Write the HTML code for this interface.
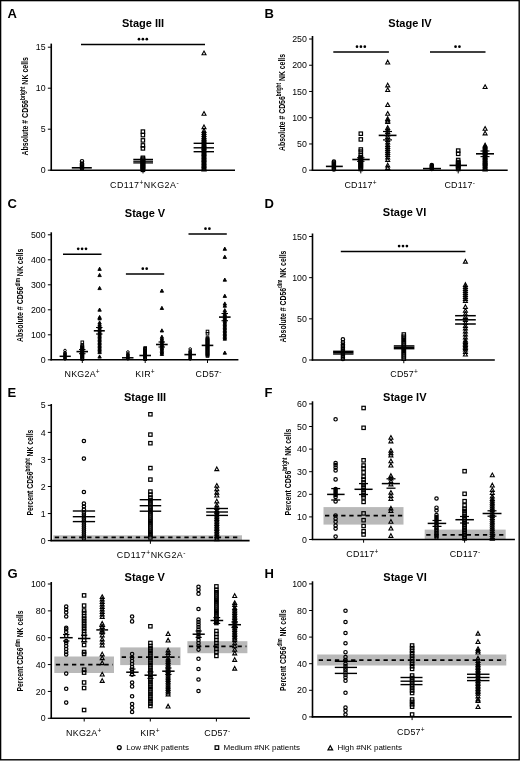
<!DOCTYPE html><html><head><meta charset="utf-8"><style>html,body{margin:0;padding:0;background:#fff}svg{display:block;filter:grayscale(1)}text{font-family:"Liberation Sans",sans-serif;fill:#000;stroke:none}</style></head><body>
<svg width="520" height="761" viewBox="0 0 520 761">
<rect x="0" y="0" width="520" height="761" fill="#fff"/>
<rect x="0.6" y="0.6" width="518.6" height="759.2" fill="none" stroke="#000" stroke-width="1.4"/>
<g stroke="#000" fill="none">
<text x="7.6" y="18" font-size="13" text-anchor="start" font-weight="bold">A</text>
<text x="264.6" y="18" font-size="13" text-anchor="start" font-weight="bold">B</text>
<text x="7.6" y="207.5" font-size="13" text-anchor="start" font-weight="bold">C</text>
<text x="264.6" y="207.5" font-size="13" text-anchor="start" font-weight="bold">D</text>
<text x="7.6" y="397" font-size="13" text-anchor="start" font-weight="bold">E</text>
<text x="264.6" y="397" font-size="13" text-anchor="start" font-weight="bold">F</text>
<text x="7.6" y="577.5" font-size="13" text-anchor="start" font-weight="bold">G</text>
<text x="264.6" y="577.5" font-size="13" text-anchor="start" font-weight="bold">H</text>
<text x="143" y="27.3" font-size="11" text-anchor="middle" font-weight="bold">Stage III</text>
<text x="410" y="27.3" font-size="11" text-anchor="middle" font-weight="bold">Stage IV</text>
<text x="145" y="216.6" font-size="11" text-anchor="middle" font-weight="bold">Stage V</text>
<text x="404.5" y="216.4" font-size="11" text-anchor="middle" font-weight="bold">Stage VI</text>
<text x="145" y="401" font-size="11" text-anchor="middle" font-weight="bold">Stage III</text>
<text x="404.8" y="401" font-size="11" text-anchor="middle" font-weight="bold">Stage IV</text>
<text x="144.8" y="580.8" font-size="11" text-anchor="middle" font-weight="bold">Stage V</text>
<text x="405" y="580.8" font-size="11" text-anchor="middle" font-weight="bold">Stage VI</text>
<line x1="51.25" y1="43.6" x2="51.25" y2="170.8" stroke-width="1.6"/>
<line x1="50.45" y1="170.2" x2="235" y2="170.2" stroke-width="1.6"/>
<line x1="47.85" y1="170.2" x2="51.25" y2="170.2" stroke-width="1"/>
<text x="45.65" y="173.3" font-size="8.8" text-anchor="end">0</text>
<line x1="47.85" y1="129.2" x2="51.25" y2="129.2" stroke-width="1"/>
<text x="45.65" y="132.3" font-size="8.8" text-anchor="end">5</text>
<line x1="47.85" y1="88.2" x2="51.25" y2="88.2" stroke-width="1"/>
<text x="45.65" y="91.3" font-size="8.8" text-anchor="end">10</text>
<line x1="47.85" y1="47.2" x2="51.25" y2="47.2" stroke-width="1"/>
<text x="45.65" y="50.3" font-size="8.8" text-anchor="end">15</text>
<line x1="143" y1="170.2" x2="143" y2="173.4" stroke-width="1"/>
<text transform="translate(28.2,106.3) rotate(-90)" font-size="9.6" font-weight="bold" text-anchor="middle" textLength="98.5" lengthAdjust="spacingAndGlyphs">Absolute # CD56<tspan font-size="6.53" dy="-3.2">bright</tspan><tspan dy="3.2"> NK cells</tspan></text>
<line x1="81" y1="44.5" x2="205" y2="44.5" stroke-width="1.45"/>
<circle cx="139" cy="39.15" r="1.35" fill="#000" stroke="none"/>
<circle cx="142.9" cy="39.15" r="1.35" fill="#000" stroke="none"/>
<circle cx="146.8" cy="39.15" r="1.35" fill="#000" stroke="none"/>
<text x="144.6" y="188.3" font-size="8.9" text-anchor="middle" letter-spacing="0.5">CD117<tspan font-size="6.6" dy="-2.9">+</tspan><tspan dy="2.9">NKG2A</tspan><tspan font-size="6.6" dy="-2.9">-</tspan></text>
<circle cx="82" cy="161.2" r="1.7" stroke-width="1.2"/>
<circle cx="82" cy="163.6" r="1.7" stroke-width="1.2"/>
<circle cx="82" cy="164.6" r="1.7" stroke-width="1.2"/>
<circle cx="82" cy="165.6" r="1.7" stroke-width="1.2"/>
<circle cx="82" cy="166.6" r="1.7" stroke-width="1.2"/>
<circle cx="82" cy="167.6" r="1.7" stroke-width="1.2"/>
<circle cx="82" cy="168.6" r="1.7" stroke-width="1.2"/>
<line x1="71.8" y1="167.8" x2="91.8" y2="167.8" stroke-width="1.6"/>
<rect x="141.2" y="129.9" width="3.4" height="3.4" stroke-width="1.2"/>
<rect x="141.2" y="133.4" width="3.4" height="3.4" stroke-width="1.2"/>
<rect x="141.2" y="138.7" width="3.4" height="3.4" stroke-width="1.2"/>
<rect x="141.2" y="143.7" width="3.4" height="3.4" stroke-width="1.2"/>
<rect x="141.2" y="146.7" width="3.4" height="3.4" stroke-width="1.2"/>
<rect x="141.2" y="156.1" width="3.4" height="3.4" stroke-width="1.2"/>
<rect x="141.2" y="157.1" width="3.4" height="3.4" stroke-width="1.2"/>
<rect x="141.2" y="158.1" width="3.4" height="3.4" stroke-width="1.2"/>
<rect x="141.2" y="159.1" width="3.4" height="3.4" stroke-width="1.2"/>
<rect x="141.2" y="160.1" width="3.4" height="3.4" stroke-width="1.2"/>
<rect x="141.2" y="161.1" width="3.4" height="3.4" stroke-width="1.2"/>
<rect x="141.2" y="162.1" width="3.4" height="3.4" stroke-width="1.2"/>
<rect x="141.2" y="163.1" width="3.4" height="3.4" stroke-width="1.2"/>
<rect x="141.2" y="164.1" width="3.4" height="3.4" stroke-width="1.2"/>
<rect x="141.2" y="165.1" width="3.4" height="3.4" stroke-width="1.2"/>
<rect x="141.2" y="166.1" width="3.4" height="3.4" stroke-width="1.2"/>
<rect x="141.2" y="167.1" width="3.4" height="3.4" stroke-width="1.2"/>
<rect x="141.2" y="168.1" width="3.4" height="3.4" stroke-width="1.2"/>
<line x1="133.3" y1="159.4" x2="153" y2="159.4" stroke-width="1.3"/>
<line x1="133.3" y1="161.2" x2="153" y2="161.2" stroke-width="1.3"/>
<line x1="133.3" y1="162.9" x2="153" y2="162.9" stroke-width="1.3"/>
<polygon points="204,51.05 206,54.75 202,54.75" stroke-width="1.1"/>
<polygon points="204,111.55 206,115.25 202,115.25" stroke-width="1.1"/>
<polygon points="204,124.95 206,128.65 202,128.65" stroke-width="1.1"/>
<polygon points="204,128.65 206,132.35 202,132.35" stroke-width="1.1"/>
<polygon points="204,130.65 206,134.35 202,134.35" stroke-width="1.1"/>
<polygon points="204,132.65 206,136.35 202,136.35" stroke-width="1.1"/>
<polygon points="204,134.65 206,138.35 202,138.35" stroke-width="1.1"/>
<polygon points="204,136.15 206,139.85 202,139.85" stroke-width="1.1"/>
<polygon points="204,137.35 206,141.05 202,141.05" stroke-width="1.1"/>
<polygon points="204,138.55 206,142.25 202,142.25" stroke-width="1.1"/>
<polygon points="204,139.75 206,143.45 202,143.45" stroke-width="1.1"/>
<polygon points="204,140.95 206,144.65 202,144.65" stroke-width="1.1"/>
<polygon points="204,142.15 206,145.85 202,145.85" stroke-width="1.1"/>
<polygon points="204,143.35 206,147.05 202,147.05" stroke-width="1.1"/>
<polygon points="204,144.55 206,148.25 202,148.25" stroke-width="1.1"/>
<polygon points="204,145.75 206,149.45 202,149.45" stroke-width="1.1"/>
<polygon points="204,146.95 206,150.65 202,150.65" stroke-width="1.1"/>
<polygon points="204,148.15 206,151.85 202,151.85" stroke-width="1.1"/>
<polygon points="204,149.35 206,153.05 202,153.05" stroke-width="1.1"/>
<polygon points="204,150.55 206,154.25 202,154.25" stroke-width="1.1"/>
<polygon points="204,151.75 206,155.45 202,155.45" stroke-width="1.1"/>
<polygon points="204,152.95 206,156.65 202,156.65" stroke-width="1.1"/>
<polygon points="204,154.15 206,157.85 202,157.85" stroke-width="1.1"/>
<polygon points="204,155.35 206,159.05 202,159.05" stroke-width="1.1"/>
<polygon points="204,156.55 206,160.25 202,160.25" stroke-width="1.1"/>
<polygon points="204,157.75 206,161.45 202,161.45" stroke-width="1.1"/>
<polygon points="204,158.95 206,162.65 202,162.65" stroke-width="1.1"/>
<polygon points="204,160.15 206,163.85 202,163.85" stroke-width="1.1"/>
<polygon points="204,161.35 206,165.05 202,165.05" stroke-width="1.1"/>
<polygon points="204,162.55 206,166.25 202,166.25" stroke-width="1.1"/>
<polygon points="204,163.75 206,167.45 202,167.45" stroke-width="1.1"/>
<polygon points="204,164.95 206,168.65 202,168.65" stroke-width="1.1"/>
<polygon points="204,166.15 206,169.85 202,169.85" stroke-width="1.1"/>
<polygon points="204,167.35 206,171.05 202,171.05" stroke-width="1.1"/>
<line x1="193.6" y1="143.3" x2="214" y2="143.3" stroke-width="1.4"/>
<line x1="193.6" y1="147.8" x2="214" y2="147.8" stroke-width="1.4"/>
<line x1="193.6" y1="151.7" x2="214" y2="151.7" stroke-width="1.4"/>
<line x1="312.5" y1="36" x2="312.5" y2="170.8" stroke-width="1.6"/>
<line x1="311.7" y1="170.2" x2="507.7" y2="170.2" stroke-width="1.6"/>
<line x1="309.1" y1="170.2" x2="312.5" y2="170.2" stroke-width="1"/>
<text x="306.9" y="173.3" font-size="8.8" text-anchor="end">0</text>
<line x1="309.1" y1="143.96" x2="312.5" y2="143.96" stroke-width="1"/>
<text x="306.9" y="147.06" font-size="8.8" text-anchor="end">50</text>
<line x1="309.1" y1="117.72" x2="312.5" y2="117.72" stroke-width="1"/>
<text x="306.9" y="120.82" font-size="8.8" text-anchor="end">100</text>
<line x1="309.1" y1="91.48" x2="312.5" y2="91.48" stroke-width="1"/>
<text x="306.9" y="94.58" font-size="8.8" text-anchor="end">150</text>
<line x1="309.1" y1="65.24" x2="312.5" y2="65.24" stroke-width="1"/>
<text x="306.9" y="68.34" font-size="8.8" text-anchor="end">200</text>
<line x1="309.1" y1="39" x2="312.5" y2="39" stroke-width="1"/>
<text x="306.9" y="42.1" font-size="8.8" text-anchor="end">250</text>
<line x1="360.8" y1="170.2" x2="360.8" y2="173.4" stroke-width="1"/>
<line x1="458.2" y1="170.2" x2="458.2" y2="173.4" stroke-width="1"/>
<text transform="translate(284.6,102.4) rotate(-90)" font-size="9.6" font-weight="bold" text-anchor="middle" textLength="97" lengthAdjust="spacingAndGlyphs">Absolute # CD56<tspan font-size="6.53" dy="-3.2">bright</tspan><tspan dy="3.2"> NK cells</tspan></text>
<line x1="333.3" y1="52" x2="388.9" y2="52" stroke-width="1.45"/>
<circle cx="357" cy="46.65" r="1.35" fill="#000" stroke="none"/>
<circle cx="360.9" cy="46.65" r="1.35" fill="#000" stroke="none"/>
<circle cx="364.8" cy="46.65" r="1.35" fill="#000" stroke="none"/>
<line x1="430" y1="52" x2="485.5" y2="52" stroke-width="1.45"/>
<circle cx="455.55" cy="46.65" r="1.35" fill="#000" stroke="none"/>
<circle cx="459.45" cy="46.65" r="1.35" fill="#000" stroke="none"/>
<text x="360.6" y="187.7" font-size="8.9" text-anchor="middle" letter-spacing="0.25">CD117<tspan font-size="6.6" dy="-2.9">+</tspan></text>
<text x="459.8" y="187.5" font-size="8.9" text-anchor="middle" letter-spacing="0.25">CD117<tspan font-size="6.6" dy="-2.9">-</tspan></text>
<circle cx="333.9" cy="161.5" r="1.7" stroke-width="1.2"/>
<circle cx="333.9" cy="162.5" r="1.7" stroke-width="1.2"/>
<circle cx="333.9" cy="163.5" r="1.7" stroke-width="1.2"/>
<circle cx="333.9" cy="164.5" r="1.7" stroke-width="1.2"/>
<circle cx="333.9" cy="165.5" r="1.7" stroke-width="1.2"/>
<circle cx="333.9" cy="166.5" r="1.7" stroke-width="1.2"/>
<circle cx="333.9" cy="167.5" r="1.7" stroke-width="1.2"/>
<circle cx="333.9" cy="168.5" r="1.7" stroke-width="1.2"/>
<circle cx="333.9" cy="169.5" r="1.7" stroke-width="1.2"/>
<line x1="325.9" y1="166.4" x2="342.8" y2="166.4" stroke-width="1.6"/>
<rect x="359.1" y="132" width="3.4" height="3.4" stroke-width="1.2"/>
<rect x="359.1" y="137.7" width="3.4" height="3.4" stroke-width="1.2"/>
<rect x="359.1" y="147.8" width="3.4" height="3.4" stroke-width="1.2"/>
<rect x="359.1" y="149.9" width="3.4" height="3.4" stroke-width="1.2"/>
<rect x="359.1" y="153.3" width="3.4" height="3.4" stroke-width="1.2"/>
<rect x="359.1" y="155.3" width="3.4" height="3.4" stroke-width="1.2"/>
<rect x="359.1" y="156.3" width="3.4" height="3.4" stroke-width="1.2"/>
<rect x="359.1" y="157.3" width="3.4" height="3.4" stroke-width="1.2"/>
<rect x="359.1" y="158.3" width="3.4" height="3.4" stroke-width="1.2"/>
<rect x="359.1" y="159.3" width="3.4" height="3.4" stroke-width="1.2"/>
<rect x="359.1" y="160.3" width="3.4" height="3.4" stroke-width="1.2"/>
<rect x="359.1" y="161.3" width="3.4" height="3.4" stroke-width="1.2"/>
<rect x="359.1" y="162.3" width="3.4" height="3.4" stroke-width="1.2"/>
<rect x="359.1" y="163.3" width="3.4" height="3.4" stroke-width="1.2"/>
<rect x="359.1" y="164.3" width="3.4" height="3.4" stroke-width="1.2"/>
<rect x="359.1" y="165.3" width="3.4" height="3.4" stroke-width="1.2"/>
<rect x="359.1" y="166.3" width="3.4" height="3.4" stroke-width="1.2"/>
<rect x="359.1" y="167.3" width="3.4" height="3.4" stroke-width="1.2"/>
<line x1="352.3" y1="159.5" x2="369.7" y2="159.5" stroke-width="1.6"/>
<line x1="357" y1="157.8" x2="364.5" y2="157.8" stroke-width="1.1"/>
<line x1="357" y1="161.3" x2="364.5" y2="161.3" stroke-width="1.1"/>
<polygon points="387.7,60.25 389.7,63.95 385.7,63.95" stroke-width="1.1"/>
<polygon points="387.7,83.15 389.7,86.85 385.7,86.85" stroke-width="1.1"/>
<polygon points="387.7,87.85 389.7,91.55 385.7,91.55" stroke-width="1.1"/>
<polygon points="387.7,102.85 389.7,106.55 385.7,106.55" stroke-width="1.1"/>
<polygon points="387.7,111.55 389.7,115.25 385.7,115.25" stroke-width="1.1"/>
<polygon points="387.7,116.65 389.7,120.35 385.7,120.35" stroke-width="1.1"/>
<polygon points="387.7,118.35 389.7,122.05 385.7,122.05" stroke-width="1.1"/>
<polygon points="387.7,119.65 389.7,123.35 385.7,123.35" stroke-width="1.1"/>
<polygon points="387.7,125.65 389.7,129.35 385.7,129.35" stroke-width="1.1"/>
<polygon points="387.7,127.65 389.7,131.35 385.7,131.35" stroke-width="1.1"/>
<polygon points="387.7,129.65 389.7,133.35 385.7,133.35" stroke-width="1.1"/>
<polygon points="387.7,132.15 389.7,135.85 385.7,135.85" stroke-width="1.1"/>
<polygon points="387.7,134.65 389.7,138.35 385.7,138.35" stroke-width="1.1"/>
<polygon points="387.7,137.65 389.7,141.35 385.7,141.35" stroke-width="1.1"/>
<polygon points="387.7,140.15 389.7,143.85 385.7,143.85" stroke-width="1.1"/>
<polygon points="387.7,142.65 389.7,146.35 385.7,146.35" stroke-width="1.1"/>
<polygon points="387.7,144.65 389.7,148.35 385.7,148.35" stroke-width="1.1"/>
<polygon points="387.7,146.65 389.7,150.35 385.7,150.35" stroke-width="1.1"/>
<polygon points="387.7,148.65 389.7,152.35 385.7,152.35" stroke-width="1.1"/>
<polygon points="387.7,150.65 389.7,154.35 385.7,154.35" stroke-width="1.1"/>
<polygon points="387.7,152.65 389.7,156.35 385.7,156.35" stroke-width="1.1"/>
<polygon points="387.7,155.15 389.7,158.85 385.7,158.85" stroke-width="1.1"/>
<polygon points="387.7,157.65 389.7,161.35 385.7,161.35" stroke-width="1.1"/>
<polygon points="387.7,163.15 389.7,166.85 385.7,166.85" stroke-width="1.1"/>
<polygon points="387.7,165.65 389.7,169.35 385.7,169.35" stroke-width="1.1"/>
<line x1="378.7" y1="135.4" x2="396.5" y2="135.4" stroke-width="1.6"/>
<line x1="383" y1="131.5" x2="392" y2="131.5" stroke-width="1.2"/>
<line x1="383" y1="139.9" x2="392" y2="139.9" stroke-width="1.2"/>
<circle cx="431.8" cy="165" r="1.7" stroke-width="1.2"/>
<circle cx="431.8" cy="166" r="1.7" stroke-width="1.2"/>
<circle cx="431.8" cy="167" r="1.7" stroke-width="1.2"/>
<circle cx="431.8" cy="168" r="1.7" stroke-width="1.2"/>
<circle cx="431.8" cy="169" r="1.7" stroke-width="1.2"/>
<line x1="423" y1="168.6" x2="441" y2="168.6" stroke-width="1.6"/>
<rect x="456.5" y="148.9" width="3.4" height="3.4" stroke-width="1.2"/>
<rect x="456.5" y="152.1" width="3.4" height="3.4" stroke-width="1.2"/>
<rect x="456.5" y="158.3" width="3.4" height="3.4" stroke-width="1.2"/>
<rect x="456.5" y="160.3" width="3.4" height="3.4" stroke-width="1.2"/>
<rect x="456.5" y="161.3" width="3.4" height="3.4" stroke-width="1.2"/>
<rect x="456.5" y="162.3" width="3.4" height="3.4" stroke-width="1.2"/>
<rect x="456.5" y="163.3" width="3.4" height="3.4" stroke-width="1.2"/>
<rect x="456.5" y="164.3" width="3.4" height="3.4" stroke-width="1.2"/>
<rect x="456.5" y="165.3" width="3.4" height="3.4" stroke-width="1.2"/>
<rect x="456.5" y="166.3" width="3.4" height="3.4" stroke-width="1.2"/>
<rect x="456.5" y="167.3" width="3.4" height="3.4" stroke-width="1.2"/>
<line x1="449.5" y1="165.4" x2="467" y2="165.4" stroke-width="1.6"/>
<polygon points="485.1,84.85 487.1,88.55 483.1,88.55" stroke-width="1.1"/>
<polygon points="485.1,126.55 487.1,130.25 483.1,130.25" stroke-width="1.1"/>
<polygon points="485.1,131.15 487.1,134.85 483.1,134.85" stroke-width="1.1"/>
<polygon points="485.1,143.15 487.1,146.85 483.1,146.85" stroke-width="1.1"/>
<polygon points="485.1,144.25 487.1,147.95 483.1,147.95" stroke-width="1.1"/>
<polygon points="485.1,145.35 487.1,149.05 483.1,149.05" stroke-width="1.1"/>
<polygon points="485.1,146.45 487.1,150.15 483.1,150.15" stroke-width="1.1"/>
<polygon points="485.1,147.55 487.1,151.25 483.1,151.25" stroke-width="1.1"/>
<polygon points="485.1,148.65 487.1,152.35 483.1,152.35" stroke-width="1.1"/>
<polygon points="485.1,149.75 487.1,153.45 483.1,153.45" stroke-width="1.1"/>
<polygon points="485.1,150.85 487.1,154.55 483.1,154.55" stroke-width="1.1"/>
<polygon points="485.1,151.95 487.1,155.65 483.1,155.65" stroke-width="1.1"/>
<polygon points="485.1,153.05 487.1,156.75 483.1,156.75" stroke-width="1.1"/>
<polygon points="485.1,154.15 487.1,157.85 483.1,157.85" stroke-width="1.1"/>
<polygon points="485.1,155.25 487.1,158.95 483.1,158.95" stroke-width="1.1"/>
<polygon points="485.1,156.35 487.1,160.05 483.1,160.05" stroke-width="1.1"/>
<polygon points="485.1,157.45 487.1,161.15 483.1,161.15" stroke-width="1.1"/>
<polygon points="485.1,158.55 487.1,162.25 483.1,162.25" stroke-width="1.1"/>
<polygon points="485.1,159.65 487.1,163.35 483.1,163.35" stroke-width="1.1"/>
<polygon points="485.1,160.75 487.1,164.45 483.1,164.45" stroke-width="1.1"/>
<polygon points="485.1,161.85 487.1,165.55 483.1,165.55" stroke-width="1.1"/>
<polygon points="485.1,162.95 487.1,166.65 483.1,166.65" stroke-width="1.1"/>
<polygon points="485.1,164.05 487.1,167.75 483.1,167.75" stroke-width="1.1"/>
<polygon points="485.1,165.15 487.1,168.85 483.1,168.85" stroke-width="1.1"/>
<polygon points="485.1,166.25 487.1,169.95 483.1,169.95" stroke-width="1.1"/>
<polygon points="485.1,167.35 487.1,171.05 483.1,171.05" stroke-width="1.1"/>
<line x1="476" y1="153.8" x2="494" y2="153.8" stroke-width="1.6"/>
<line x1="480.5" y1="151" x2="489.5" y2="151" stroke-width="1.1"/>
<line x1="480.5" y1="156.6" x2="489.5" y2="156.6" stroke-width="1.1"/>
<line x1="51.25" y1="232.3" x2="51.25" y2="360.4" stroke-width="1.6"/>
<line x1="50.45" y1="359.8" x2="238.4" y2="359.8" stroke-width="1.6"/>
<line x1="47.85" y1="359.8" x2="51.25" y2="359.8" stroke-width="1"/>
<text x="45.65" y="362.9" font-size="8.8" text-anchor="end">0</text>
<line x1="47.85" y1="334.8" x2="51.25" y2="334.8" stroke-width="1"/>
<text x="45.65" y="337.9" font-size="8.8" text-anchor="end">100</text>
<line x1="47.85" y1="309.8" x2="51.25" y2="309.8" stroke-width="1"/>
<text x="45.65" y="312.9" font-size="8.8" text-anchor="end">200</text>
<line x1="47.85" y1="284.8" x2="51.25" y2="284.8" stroke-width="1"/>
<text x="45.65" y="287.9" font-size="8.8" text-anchor="end">300</text>
<line x1="47.85" y1="259.8" x2="51.25" y2="259.8" stroke-width="1"/>
<text x="45.65" y="262.9" font-size="8.8" text-anchor="end">400</text>
<line x1="47.85" y1="234.8" x2="51.25" y2="234.8" stroke-width="1"/>
<text x="45.65" y="237.9" font-size="8.8" text-anchor="end">500</text>
<line x1="82.3" y1="359.8" x2="82.3" y2="363" stroke-width="1"/>
<line x1="145.2" y1="359.8" x2="145.2" y2="363" stroke-width="1"/>
<line x1="207.5" y1="359.8" x2="207.5" y2="363" stroke-width="1"/>
<text transform="translate(23.4,295.3) rotate(-90)" font-size="9.6" font-weight="bold" text-anchor="middle" textLength="93.4" lengthAdjust="spacingAndGlyphs">Absolute # CD56<tspan font-size="6.53" dy="-3.2">dim</tspan><tspan dy="3.2"> NK cells</tspan></text>
<line x1="63" y1="254.2" x2="101.5" y2="254.2" stroke-width="1.45"/>
<circle cx="78.2" cy="248.85" r="1.35" fill="#000" stroke="none"/>
<circle cx="82.1" cy="248.85" r="1.35" fill="#000" stroke="none"/>
<circle cx="86" cy="248.85" r="1.35" fill="#000" stroke="none"/>
<line x1="125.9" y1="274" x2="164.2" y2="274" stroke-width="1.45"/>
<circle cx="142.8" cy="268.65" r="1.35" fill="#000" stroke="none"/>
<circle cx="146.7" cy="268.65" r="1.35" fill="#000" stroke="none"/>
<line x1="188.5" y1="234" x2="226.8" y2="234" stroke-width="1.45"/>
<circle cx="205.5" cy="228.65" r="1.35" fill="#000" stroke="none"/>
<circle cx="209.4" cy="228.65" r="1.35" fill="#000" stroke="none"/>
<text x="82.2" y="377.2" font-size="8.9" text-anchor="middle" letter-spacing="0.25">NKG2A<tspan font-size="6.6" dy="-2.9">+</tspan></text>
<text x="145.1" y="377.2" font-size="8.9" text-anchor="middle" letter-spacing="0.25">KIR<tspan font-size="6.6" dy="-2.9">+</tspan></text>
<text x="208.7" y="377.2" font-size="8.9" text-anchor="middle" letter-spacing="0.25">CD57<tspan font-size="6.6" dy="-2.9">-</tspan></text>
<circle cx="65" cy="350.5" r="1.3" stroke-width="1"/>
<circle cx="65" cy="352.5" r="1.3" stroke-width="1"/>
<circle cx="65" cy="353.3" r="1.3" stroke-width="1"/>
<circle cx="65" cy="354.1" r="1.3" stroke-width="1"/>
<circle cx="65" cy="354.9" r="1.3" stroke-width="1"/>
<circle cx="65" cy="355.7" r="1.3" stroke-width="1"/>
<circle cx="65" cy="356.5" r="1.3" stroke-width="1"/>
<circle cx="65" cy="357.3" r="1.3" stroke-width="1"/>
<circle cx="65" cy="358.1" r="1.3" stroke-width="1"/>
<circle cx="65" cy="358.9" r="1.3" stroke-width="1"/>
<line x1="59.6" y1="356.3" x2="70.8" y2="356.3" stroke-width="1.5"/>
<rect x="81" y="341" width="2.6" height="2.6" stroke-width="1"/>
<rect x="81" y="344.2" width="2.6" height="2.6" stroke-width="1"/>
<rect x="81" y="345" width="2.6" height="2.6" stroke-width="1"/>
<rect x="81" y="345.8" width="2.6" height="2.6" stroke-width="1"/>
<rect x="81" y="346.6" width="2.6" height="2.6" stroke-width="1"/>
<rect x="81" y="347.4" width="2.6" height="2.6" stroke-width="1"/>
<rect x="81" y="348.2" width="2.6" height="2.6" stroke-width="1"/>
<rect x="81" y="349" width="2.6" height="2.6" stroke-width="1"/>
<rect x="81" y="349.8" width="2.6" height="2.6" stroke-width="1"/>
<rect x="81" y="350.6" width="2.6" height="2.6" stroke-width="1"/>
<rect x="81" y="351.4" width="2.6" height="2.6" stroke-width="1"/>
<rect x="81" y="352.2" width="2.6" height="2.6" stroke-width="1"/>
<rect x="81" y="353" width="2.6" height="2.6" stroke-width="1"/>
<rect x="81" y="353.8" width="2.6" height="2.6" stroke-width="1"/>
<rect x="81" y="354.6" width="2.6" height="2.6" stroke-width="1"/>
<rect x="81" y="355.4" width="2.6" height="2.6" stroke-width="1"/>
<rect x="81" y="356.2" width="2.6" height="2.6" stroke-width="1"/>
<rect x="81" y="357" width="2.6" height="2.6" stroke-width="1"/>
<rect x="81" y="357.8" width="2.6" height="2.6" stroke-width="1"/>
<line x1="76.5" y1="351.6" x2="88" y2="351.6" stroke-width="1.6"/>
<line x1="79" y1="349.5" x2="85.5" y2="349.5" stroke-width="1.1"/>
<line x1="79" y1="353.7" x2="85.5" y2="353.7" stroke-width="1.1"/>
<polygon points="99.6,267.2 101.3,270.4 97.9,270.4" stroke-width="0.9" fill="#000"/>
<polygon points="99.6,273.4 101.3,276.6 97.9,276.6" stroke-width="0.9" fill="#000"/>
<polygon points="99.6,286.4 101.3,289.6 97.9,289.6" stroke-width="0.9" fill="#000"/>
<polygon points="99.6,308 101.3,311.2 97.9,311.2" stroke-width="0.9" fill="#000"/>
<polygon points="99.6,315.4 101.3,318.6 97.9,318.6" stroke-width="0.9" fill="#000"/>
<polygon points="99.6,316.7 101.3,319.9 97.9,319.9" stroke-width="0.9" fill="#000"/>
<polygon points="99.6,320.9 101.3,324.1 97.9,324.1" stroke-width="0.9" fill="#000"/>
<polygon points="99.6,322.9 101.3,326.1 97.9,326.1" stroke-width="0.9" fill="#000"/>
<polygon points="99.6,324.35 101.3,327.55 97.9,327.55" stroke-width="0.9" fill="#000"/>
<polygon points="99.6,325.8 101.3,329 97.9,329" stroke-width="0.9" fill="#000"/>
<polygon points="99.6,327.25 101.3,330.45 97.9,330.45" stroke-width="0.9" fill="#000"/>
<polygon points="99.6,328.7 101.3,331.9 97.9,331.9" stroke-width="0.9" fill="#000"/>
<polygon points="99.6,330.15 101.3,333.35 97.9,333.35" stroke-width="0.9" fill="#000"/>
<polygon points="99.6,331.6 101.3,334.8 97.9,334.8" stroke-width="0.9" fill="#000"/>
<polygon points="99.6,333.05 101.3,336.25 97.9,336.25" stroke-width="0.9" fill="#000"/>
<polygon points="99.6,334.5 101.3,337.7 97.9,337.7" stroke-width="0.9" fill="#000"/>
<polygon points="99.6,335.95 101.3,339.15 97.9,339.15" stroke-width="0.9" fill="#000"/>
<polygon points="99.6,337.4 101.3,340.6 97.9,340.6" stroke-width="0.9" fill="#000"/>
<polygon points="99.6,338.85 101.3,342.05 97.9,342.05" stroke-width="0.9" fill="#000"/>
<polygon points="99.6,340.3 101.3,343.5 97.9,343.5" stroke-width="0.9" fill="#000"/>
<polygon points="99.6,341.75 101.3,344.95 97.9,344.95" stroke-width="0.9" fill="#000"/>
<polygon points="99.6,343.2 101.3,346.4 97.9,346.4" stroke-width="0.9" fill="#000"/>
<polygon points="99.6,344.65 101.3,347.85 97.9,347.85" stroke-width="0.9" fill="#000"/>
<polygon points="99.6,346.1 101.3,349.3 97.9,349.3" stroke-width="0.9" fill="#000"/>
<polygon points="99.6,347.55 101.3,350.75 97.9,350.75" stroke-width="0.9" fill="#000"/>
<polygon points="99.6,349 101.3,352.2 97.9,352.2" stroke-width="0.9" fill="#000"/>
<polygon points="99.6,350.45 101.3,353.65 97.9,353.65" stroke-width="0.9" fill="#000"/>
<polygon points="99.6,354.9 101.3,358.1 97.9,358.1" stroke-width="0.9" fill="#000"/>
<line x1="93.8" y1="330.8" x2="104.8" y2="330.8" stroke-width="1.6"/>
<line x1="96" y1="327.5" x2="102.5" y2="327.5" stroke-width="1.1"/>
<line x1="96" y1="334" x2="102.5" y2="334" stroke-width="1.1"/>
<circle cx="127.9" cy="352" r="1.3" stroke-width="1"/>
<circle cx="127.9" cy="354" r="1.3" stroke-width="1"/>
<circle cx="127.9" cy="354.8" r="1.3" stroke-width="1"/>
<circle cx="127.9" cy="355.6" r="1.3" stroke-width="1"/>
<circle cx="127.9" cy="356.4" r="1.3" stroke-width="1"/>
<circle cx="127.9" cy="357.2" r="1.3" stroke-width="1"/>
<circle cx="127.9" cy="358" r="1.3" stroke-width="1"/>
<circle cx="127.9" cy="358.8" r="1.3" stroke-width="1"/>
<line x1="122" y1="357.8" x2="133.5" y2="357.8" stroke-width="1.5"/>
<rect x="143.9" y="346.7" width="2.6" height="2.6" stroke-width="1"/>
<rect x="143.9" y="347.5" width="2.6" height="2.6" stroke-width="1"/>
<rect x="143.9" y="348.3" width="2.6" height="2.6" stroke-width="1"/>
<rect x="143.9" y="349.1" width="2.6" height="2.6" stroke-width="1"/>
<rect x="143.9" y="349.9" width="2.6" height="2.6" stroke-width="1"/>
<rect x="143.9" y="350.7" width="2.6" height="2.6" stroke-width="1"/>
<rect x="143.9" y="351.5" width="2.6" height="2.6" stroke-width="1"/>
<rect x="143.9" y="352.3" width="2.6" height="2.6" stroke-width="1"/>
<rect x="143.9" y="353.1" width="2.6" height="2.6" stroke-width="1"/>
<rect x="143.9" y="353.9" width="2.6" height="2.6" stroke-width="1"/>
<rect x="143.9" y="354.7" width="2.6" height="2.6" stroke-width="1"/>
<rect x="143.9" y="355.5" width="2.6" height="2.6" stroke-width="1"/>
<rect x="143.9" y="356.3" width="2.6" height="2.6" stroke-width="1"/>
<rect x="143.9" y="357.1" width="2.6" height="2.6" stroke-width="1"/>
<rect x="143.9" y="357.9" width="2.6" height="2.6" stroke-width="1"/>
<line x1="139.4" y1="355.5" x2="151" y2="355.5" stroke-width="1.6"/>
<polygon points="161.9,289 163.6,292.2 160.2,292.2" stroke-width="0.9" fill="#000"/>
<polygon points="161.9,306.3 163.6,309.5 160.2,309.5" stroke-width="0.9" fill="#000"/>
<polygon points="161.9,328.8 163.6,332 160.2,332" stroke-width="0.9" fill="#000"/>
<polygon points="161.9,335.1 163.6,338.3 160.2,338.3" stroke-width="0.9" fill="#000"/>
<polygon points="161.9,336.9 163.6,340.1 160.2,340.1" stroke-width="0.9" fill="#000"/>
<polygon points="161.9,338.3 163.6,341.5 160.2,341.5" stroke-width="0.9" fill="#000"/>
<polygon points="161.9,339.7 163.6,342.9 160.2,342.9" stroke-width="0.9" fill="#000"/>
<polygon points="161.9,341.1 163.6,344.3 160.2,344.3" stroke-width="0.9" fill="#000"/>
<polygon points="161.9,342.5 163.6,345.7 160.2,345.7" stroke-width="0.9" fill="#000"/>
<polygon points="161.9,343.9 163.6,347.1 160.2,347.1" stroke-width="0.9" fill="#000"/>
<polygon points="161.9,345.3 163.6,348.5 160.2,348.5" stroke-width="0.9" fill="#000"/>
<polygon points="161.9,346.7 163.6,349.9 160.2,349.9" stroke-width="0.9" fill="#000"/>
<polygon points="161.9,348.1 163.6,351.3 160.2,351.3" stroke-width="0.9" fill="#000"/>
<polygon points="161.9,349.5 163.6,352.7 160.2,352.7" stroke-width="0.9" fill="#000"/>
<polygon points="161.9,350.9 163.6,354.1 160.2,354.1" stroke-width="0.9" fill="#000"/>
<polygon points="161.9,352.3 163.6,355.5 160.2,355.5" stroke-width="0.9" fill="#000"/>
<line x1="156" y1="344.5" x2="167.7" y2="344.5" stroke-width="1.6"/>
<line x1="158.5" y1="342" x2="165" y2="342" stroke-width="1.1"/>
<line x1="158.5" y1="347" x2="165" y2="347" stroke-width="1.1"/>
<circle cx="190.2" cy="349" r="1.3" stroke-width="1"/>
<circle cx="190.2" cy="351" r="1.3" stroke-width="1"/>
<circle cx="190.2" cy="351.8" r="1.3" stroke-width="1"/>
<circle cx="190.2" cy="352.6" r="1.3" stroke-width="1"/>
<circle cx="190.2" cy="353.4" r="1.3" stroke-width="1"/>
<circle cx="190.2" cy="354.2" r="1.3" stroke-width="1"/>
<circle cx="190.2" cy="355" r="1.3" stroke-width="1"/>
<circle cx="190.2" cy="355.8" r="1.3" stroke-width="1"/>
<circle cx="190.2" cy="356.6" r="1.3" stroke-width="1"/>
<circle cx="190.2" cy="357.4" r="1.3" stroke-width="1"/>
<circle cx="190.2" cy="358.2" r="1.3" stroke-width="1"/>
<circle cx="190.2" cy="359" r="1.3" stroke-width="1"/>
<line x1="184.4" y1="354.6" x2="196" y2="354.6" stroke-width="1.6"/>
<rect x="206.2" y="330.2" width="2.6" height="2.6" stroke-width="1"/>
<rect x="206.2" y="332.5" width="2.6" height="2.6" stroke-width="1"/>
<rect x="206.2" y="336.7" width="2.6" height="2.6" stroke-width="1"/>
<rect x="206.2" y="337.6" width="2.6" height="2.6" stroke-width="1"/>
<rect x="206.2" y="338.5" width="2.6" height="2.6" stroke-width="1"/>
<rect x="206.2" y="339.4" width="2.6" height="2.6" stroke-width="1"/>
<rect x="206.2" y="340.3" width="2.6" height="2.6" stroke-width="1"/>
<rect x="206.2" y="341.2" width="2.6" height="2.6" stroke-width="1"/>
<rect x="206.2" y="342.1" width="2.6" height="2.6" stroke-width="1"/>
<rect x="206.2" y="343" width="2.6" height="2.6" stroke-width="1"/>
<rect x="206.2" y="343.9" width="2.6" height="2.6" stroke-width="1"/>
<rect x="206.2" y="344.8" width="2.6" height="2.6" stroke-width="1"/>
<rect x="206.2" y="345.7" width="2.6" height="2.6" stroke-width="1"/>
<rect x="206.2" y="346.6" width="2.6" height="2.6" stroke-width="1"/>
<rect x="206.2" y="347.5" width="2.6" height="2.6" stroke-width="1"/>
<rect x="206.2" y="348.4" width="2.6" height="2.6" stroke-width="1"/>
<rect x="206.2" y="349.3" width="2.6" height="2.6" stroke-width="1"/>
<rect x="206.2" y="350.2" width="2.6" height="2.6" stroke-width="1"/>
<rect x="206.2" y="351.1" width="2.6" height="2.6" stroke-width="1"/>
<rect x="206.2" y="352" width="2.6" height="2.6" stroke-width="1"/>
<rect x="206.2" y="352.9" width="2.6" height="2.6" stroke-width="1"/>
<rect x="206.2" y="353.8" width="2.6" height="2.6" stroke-width="1"/>
<rect x="206.2" y="354.7" width="2.6" height="2.6" stroke-width="1"/>
<line x1="201.7" y1="345.4" x2="213.3" y2="345.4" stroke-width="1.6"/>
<polygon points="224.8,247.1 226.5,250.3 223.1,250.3" stroke-width="0.9" fill="#000"/>
<polygon points="224.8,255.2 226.5,258.4 223.1,258.4" stroke-width="0.9" fill="#000"/>
<polygon points="224.8,278 226.5,281.2 223.1,281.2" stroke-width="0.9" fill="#000"/>
<polygon points="224.8,294.2 226.5,297.4 223.1,297.4" stroke-width="0.9" fill="#000"/>
<polygon points="224.8,301.9 226.5,305.1 223.1,305.1" stroke-width="0.9" fill="#000"/>
<polygon points="224.8,304 226.5,307.2 223.1,307.2" stroke-width="0.9" fill="#000"/>
<polygon points="224.8,308.6 226.5,311.8 223.1,311.8" stroke-width="0.9" fill="#000"/>
<polygon points="224.8,310.9 226.5,314.1 223.1,314.1" stroke-width="0.9" fill="#000"/>
<polygon points="224.8,312.35 226.5,315.55 223.1,315.55" stroke-width="0.9" fill="#000"/>
<polygon points="224.8,313.8 226.5,317 223.1,317" stroke-width="0.9" fill="#000"/>
<polygon points="224.8,315.25 226.5,318.45 223.1,318.45" stroke-width="0.9" fill="#000"/>
<polygon points="224.8,316.7 226.5,319.9 223.1,319.9" stroke-width="0.9" fill="#000"/>
<polygon points="224.8,318.15 226.5,321.35 223.1,321.35" stroke-width="0.9" fill="#000"/>
<polygon points="224.8,319.6 226.5,322.8 223.1,322.8" stroke-width="0.9" fill="#000"/>
<polygon points="224.8,321.05 226.5,324.25 223.1,324.25" stroke-width="0.9" fill="#000"/>
<polygon points="224.8,322.5 226.5,325.7 223.1,325.7" stroke-width="0.9" fill="#000"/>
<polygon points="224.8,323.95 226.5,327.15 223.1,327.15" stroke-width="0.9" fill="#000"/>
<polygon points="224.8,325.4 226.5,328.6 223.1,328.6" stroke-width="0.9" fill="#000"/>
<polygon points="224.8,326.85 226.5,330.05 223.1,330.05" stroke-width="0.9" fill="#000"/>
<polygon points="224.8,328.3 226.5,331.5 223.1,331.5" stroke-width="0.9" fill="#000"/>
<polygon points="224.8,329.75 226.5,332.95 223.1,332.95" stroke-width="0.9" fill="#000"/>
<polygon points="224.8,331.2 226.5,334.4 223.1,334.4" stroke-width="0.9" fill="#000"/>
<polygon points="224.8,332.65 226.5,335.85 223.1,335.85" stroke-width="0.9" fill="#000"/>
<polygon points="224.8,334.1 226.5,337.3 223.1,337.3" stroke-width="0.9" fill="#000"/>
<polygon points="224.8,335.55 226.5,338.75 223.1,338.75" stroke-width="0.9" fill="#000"/>
<polygon points="224.8,337 226.5,340.2 223.1,340.2" stroke-width="0.9" fill="#000"/>
<polygon points="224.8,351 226.5,354.2 223.1,354.2" stroke-width="0.9" fill="#000"/>
<line x1="219" y1="317.1" x2="230.6" y2="317.1" stroke-width="1.6"/>
<line x1="221.5" y1="313.5" x2="228" y2="313.5" stroke-width="1.1"/>
<line x1="221.5" y1="320.7" x2="228" y2="320.7" stroke-width="1.1"/>
<line x1="312.5" y1="233.5" x2="312.5" y2="360.6" stroke-width="1.6"/>
<line x1="311.7" y1="360" x2="494.8" y2="360" stroke-width="1.6"/>
<line x1="309.1" y1="360" x2="312.5" y2="360" stroke-width="1"/>
<text x="306.9" y="363.1" font-size="8.8" text-anchor="end">0</text>
<line x1="309.1" y1="318.83" x2="312.5" y2="318.83" stroke-width="1"/>
<text x="306.9" y="321.94" font-size="8.8" text-anchor="end">50</text>
<line x1="309.1" y1="277.67" x2="312.5" y2="277.67" stroke-width="1"/>
<text x="306.9" y="280.77" font-size="8.8" text-anchor="end">100</text>
<line x1="309.1" y1="236.5" x2="312.5" y2="236.5" stroke-width="1"/>
<text x="306.9" y="239.6" font-size="8.8" text-anchor="end">150</text>
<line x1="403.8" y1="360" x2="403.8" y2="363.2" stroke-width="1"/>
<text transform="translate(285.6,296.6) rotate(-90)" font-size="9.6" font-weight="bold" text-anchor="middle" textLength="92" lengthAdjust="spacingAndGlyphs">Absolute # CD56<tspan font-size="6.53" dy="-3.2">dim</tspan><tspan dy="3.2"> NK cells</tspan></text>
<line x1="340.8" y1="251.4" x2="465.4" y2="251.4" stroke-width="1.45"/>
<circle cx="399.1" cy="246.05" r="1.35" fill="#000" stroke="none"/>
<circle cx="403" cy="246.05" r="1.35" fill="#000" stroke="none"/>
<circle cx="406.9" cy="246.05" r="1.35" fill="#000" stroke="none"/>
<text x="404.2" y="376.8" font-size="8.9" text-anchor="middle" letter-spacing="0.25">CD57<tspan font-size="6.6" dy="-2.9">+</tspan></text>
<circle cx="342.9" cy="339.4" r="1.7" stroke-width="1.2"/>
<circle cx="342.9" cy="342.2" r="1.7" stroke-width="1.2"/>
<circle cx="342.9" cy="344.5" r="1.7" stroke-width="1.2"/>
<circle cx="342.9" cy="346.1" r="1.7" stroke-width="1.2"/>
<circle cx="342.9" cy="347.7" r="1.7" stroke-width="1.2"/>
<circle cx="342.9" cy="349.3" r="1.7" stroke-width="1.2"/>
<circle cx="342.9" cy="350.9" r="1.7" stroke-width="1.2"/>
<circle cx="342.9" cy="352.5" r="1.7" stroke-width="1.2"/>
<circle cx="342.9" cy="354.1" r="1.7" stroke-width="1.2"/>
<circle cx="342.9" cy="355.7" r="1.7" stroke-width="1.2"/>
<circle cx="342.9" cy="357.3" r="1.7" stroke-width="1.2"/>
<circle cx="342.9" cy="358.9" r="1.7" stroke-width="1.2"/>
<line x1="333.1" y1="351.3" x2="353.5" y2="351.3" stroke-width="1.4"/>
<line x1="333.1" y1="352.6" x2="353.5" y2="352.6" stroke-width="1.4"/>
<line x1="333.1" y1="354" x2="353.5" y2="354" stroke-width="1.4"/>
<rect x="402.1" y="332.8" width="3.4" height="3.4" stroke-width="1.2"/>
<rect x="402.1" y="335" width="3.4" height="3.4" stroke-width="1.2"/>
<rect x="402.1" y="337.2" width="3.4" height="3.4" stroke-width="1.2"/>
<rect x="402.1" y="339.4" width="3.4" height="3.4" stroke-width="1.2"/>
<rect x="402.1" y="341.6" width="3.4" height="3.4" stroke-width="1.2"/>
<rect x="402.1" y="343.8" width="3.4" height="3.4" stroke-width="1.2"/>
<rect x="402.1" y="346" width="3.4" height="3.4" stroke-width="1.2"/>
<rect x="402.1" y="348.2" width="3.4" height="3.4" stroke-width="1.2"/>
<rect x="402.1" y="350.4" width="3.4" height="3.4" stroke-width="1.2"/>
<rect x="402.1" y="352.6" width="3.4" height="3.4" stroke-width="1.2"/>
<rect x="402.1" y="354.8" width="3.4" height="3.4" stroke-width="1.2"/>
<rect x="402.1" y="357" width="3.4" height="3.4" stroke-width="1.2"/>
<line x1="393.8" y1="345.9" x2="414.4" y2="345.9" stroke-width="1.4"/>
<line x1="393.8" y1="347.3" x2="414.4" y2="347.3" stroke-width="1.4"/>
<line x1="393.8" y1="348.7" x2="414.4" y2="348.7" stroke-width="1.4"/>
<polygon points="465.4,259.45 467.4,263.15 463.4,263.15" stroke-width="1.1"/>
<polygon points="465.4,282.65 467.4,286.35 463.4,286.35" stroke-width="1.1"/>
<polygon points="465.4,284.65 467.4,288.35 463.4,288.35" stroke-width="1.1"/>
<polygon points="465.4,286.65 467.4,290.35 463.4,290.35" stroke-width="1.1"/>
<polygon points="465.4,288.65 467.4,292.35 463.4,292.35" stroke-width="1.1"/>
<polygon points="465.4,290.65 467.4,294.35 463.4,294.35" stroke-width="1.1"/>
<polygon points="465.4,292.65 467.4,296.35 463.4,296.35" stroke-width="1.1"/>
<polygon points="465.4,294.65 467.4,298.35 463.4,298.35" stroke-width="1.1"/>
<polygon points="465.4,296.65 467.4,300.35 463.4,300.35" stroke-width="1.1"/>
<polygon points="465.4,298.65 467.4,302.35 463.4,302.35" stroke-width="1.1"/>
<polygon points="465.4,304.75 467.4,308.45 463.4,308.45" stroke-width="1.1"/>
<polygon points="465.4,308.55 467.4,312.25 463.4,312.25" stroke-width="1.1"/>
<polygon points="465.4,311.65 467.4,315.35 463.4,315.35" stroke-width="1.1"/>
<polygon points="465.4,314.65 467.4,318.35 463.4,318.35" stroke-width="1.1"/>
<polygon points="465.4,317.65 467.4,321.35 463.4,321.35" stroke-width="1.1"/>
<polygon points="465.4,320.65 467.4,324.35 463.4,324.35" stroke-width="1.1"/>
<polygon points="465.4,323.65 467.4,327.35 463.4,327.35" stroke-width="1.1"/>
<polygon points="465.4,326.15 467.4,329.85 463.4,329.85" stroke-width="1.1"/>
<polygon points="465.4,329.15 467.4,332.85 463.4,332.85" stroke-width="1.1"/>
<polygon points="465.4,332.15 467.4,335.85 463.4,335.85" stroke-width="1.1"/>
<polygon points="465.4,335.15 467.4,338.85 463.4,338.85" stroke-width="1.1"/>
<polygon points="465.4,338.15 467.4,341.85 463.4,341.85" stroke-width="1.1"/>
<polygon points="465.4,339.65 467.4,343.35 463.4,343.35" stroke-width="1.1"/>
<polygon points="465.4,341.15 467.4,344.85 463.4,344.85" stroke-width="1.1"/>
<polygon points="465.4,342.65 467.4,346.35 463.4,346.35" stroke-width="1.1"/>
<polygon points="465.4,344.15 467.4,347.85 463.4,347.85" stroke-width="1.1"/>
<polygon points="465.4,345.65 467.4,349.35 463.4,349.35" stroke-width="1.1"/>
<polygon points="465.4,347.15 467.4,350.85 463.4,350.85" stroke-width="1.1"/>
<polygon points="465.4,349.65 467.4,353.35 463.4,353.35" stroke-width="1.1"/>
<polygon points="465.4,352.35 467.4,356.05 463.4,356.05" stroke-width="1.1"/>
<line x1="455.1" y1="315.7" x2="475.8" y2="315.7" stroke-width="1.5"/>
<line x1="455.1" y1="319.8" x2="475.8" y2="319.8" stroke-width="1.5"/>
<line x1="455.1" y1="324" x2="475.8" y2="324" stroke-width="1.5"/>
<rect x="53.3" y="535.3" width="188.7" height="4.7" fill="#b9b9b9" stroke="none"/>
<line x1="54.8" y1="537.3" x2="241" y2="537.3" stroke-width="1.75" stroke-dasharray="4.3 3.8"/>
<line x1="51.25" y1="404" x2="51.25" y2="541.2" stroke-width="1.6"/>
<line x1="50.45" y1="540.6" x2="249.6" y2="540.6" stroke-width="1.6"/>
<line x1="47.85" y1="540.6" x2="51.25" y2="540.6" stroke-width="1"/>
<text x="45.65" y="543.7" font-size="8.8" text-anchor="end">0</text>
<line x1="47.85" y1="513.55" x2="51.25" y2="513.55" stroke-width="1"/>
<text x="45.65" y="516.65" font-size="8.8" text-anchor="end">1</text>
<line x1="47.85" y1="486.5" x2="51.25" y2="486.5" stroke-width="1"/>
<text x="45.65" y="489.6" font-size="8.8" text-anchor="end">2</text>
<line x1="47.85" y1="459.45" x2="51.25" y2="459.45" stroke-width="1"/>
<text x="45.65" y="462.55" font-size="8.8" text-anchor="end">3</text>
<line x1="47.85" y1="432.4" x2="51.25" y2="432.4" stroke-width="1"/>
<text x="45.65" y="435.5" font-size="8.8" text-anchor="end">4</text>
<line x1="47.85" y1="405.35" x2="51.25" y2="405.35" stroke-width="1"/>
<text x="45.65" y="408.45" font-size="8.8" text-anchor="end">5</text>
<line x1="150.4" y1="540.6" x2="150.4" y2="543.8" stroke-width="1"/>
<text transform="translate(33.1,472.6) rotate(-90)" font-size="9.6" font-weight="bold" text-anchor="middle" textLength="86" lengthAdjust="spacingAndGlyphs">Percent CD56<tspan font-size="6.53" dy="-3.2">bright</tspan><tspan dy="3.2"> NK cells</tspan></text>
<text x="151.4" y="557.6" font-size="8.9" text-anchor="middle" letter-spacing="0.5">CD117<tspan font-size="6.6" dy="-2.9">+</tspan><tspan dy="2.9">NKG2A</tspan><tspan font-size="6.6" dy="-2.9">-</tspan></text>
<circle cx="83.9" cy="441" r="1.7" stroke-width="1.2"/>
<circle cx="83.9" cy="458.6" r="1.7" stroke-width="1.2"/>
<circle cx="83.9" cy="492" r="1.7" stroke-width="1.2"/>
<circle cx="83.9" cy="503.6" r="1.7" stroke-width="1.2"/>
<circle cx="83.9" cy="506.5" r="1.7" stroke-width="1.2"/>
<circle cx="83.9" cy="509.5" r="1.7" stroke-width="1.2"/>
<circle cx="83.9" cy="512.5" r="1.7" stroke-width="1.2"/>
<circle cx="83.9" cy="514.5" r="1.7" stroke-width="1.2"/>
<circle cx="83.9" cy="516.5" r="1.7" stroke-width="1.2"/>
<circle cx="83.9" cy="518.5" r="1.7" stroke-width="1.2"/>
<circle cx="83.9" cy="520.5" r="1.7" stroke-width="1.2"/>
<circle cx="83.9" cy="522.5" r="1.7" stroke-width="1.2"/>
<circle cx="83.9" cy="524.5" r="1.7" stroke-width="1.2"/>
<circle cx="83.9" cy="526.5" r="1.7" stroke-width="1.2"/>
<circle cx="83.9" cy="528.5" r="1.7" stroke-width="1.2"/>
<circle cx="83.9" cy="530.5" r="1.7" stroke-width="1.2"/>
<circle cx="83.9" cy="532.5" r="1.7" stroke-width="1.2"/>
<circle cx="83.9" cy="534.5" r="1.7" stroke-width="1.2"/>
<circle cx="83.9" cy="536.5" r="1.7" stroke-width="1.2"/>
<circle cx="83.9" cy="538.5" r="1.7" stroke-width="1.2"/>
<line x1="72.8" y1="511" x2="95.1" y2="511" stroke-width="1.4"/>
<line x1="72.8" y1="516.7" x2="95.1" y2="516.7" stroke-width="1.4"/>
<line x1="72.8" y1="521.6" x2="95.1" y2="521.6" stroke-width="1.4"/>
<rect x="148.7" y="412.6" width="3.4" height="3.4" stroke-width="1.2"/>
<rect x="148.7" y="432.9" width="3.4" height="3.4" stroke-width="1.2"/>
<rect x="148.7" y="441.5" width="3.4" height="3.4" stroke-width="1.2"/>
<rect x="148.7" y="466.4" width="3.4" height="3.4" stroke-width="1.2"/>
<rect x="148.7" y="477.9" width="3.4" height="3.4" stroke-width="1.2"/>
<rect x="148.7" y="489.9" width="3.4" height="3.4" stroke-width="1.2"/>
<rect x="148.7" y="492.9" width="3.4" height="3.4" stroke-width="1.2"/>
<rect x="148.7" y="495.9" width="3.4" height="3.4" stroke-width="1.2"/>
<rect x="148.7" y="498.3" width="3.4" height="3.4" stroke-width="1.2"/>
<rect x="148.7" y="500.5" width="3.4" height="3.4" stroke-width="1.2"/>
<rect x="148.7" y="502.7" width="3.4" height="3.4" stroke-width="1.2"/>
<rect x="148.7" y="504.9" width="3.4" height="3.4" stroke-width="1.2"/>
<rect x="148.7" y="507.1" width="3.4" height="3.4" stroke-width="1.2"/>
<rect x="148.7" y="509.3" width="3.4" height="3.4" stroke-width="1.2"/>
<rect x="148.7" y="511.5" width="3.4" height="3.4" stroke-width="1.2"/>
<rect x="148.7" y="513.7" width="3.4" height="3.4" stroke-width="1.2"/>
<rect x="148.7" y="515.9" width="3.4" height="3.4" stroke-width="1.2"/>
<rect x="148.7" y="518.1" width="3.4" height="3.4" stroke-width="1.2"/>
<rect x="148.7" y="520.3" width="3.4" height="3.4" stroke-width="1.2"/>
<rect x="148.7" y="522.5" width="3.4" height="3.4" stroke-width="1.2"/>
<rect x="148.7" y="524.7" width="3.4" height="3.4" stroke-width="1.2"/>
<rect x="148.7" y="526.9" width="3.4" height="3.4" stroke-width="1.2"/>
<rect x="148.7" y="529.1" width="3.4" height="3.4" stroke-width="1.2"/>
<rect x="148.7" y="531.3" width="3.4" height="3.4" stroke-width="1.2"/>
<rect x="148.7" y="533.5" width="3.4" height="3.4" stroke-width="1.2"/>
<rect x="148.7" y="535.7" width="3.4" height="3.4" stroke-width="1.2"/>
<line x1="139.7" y1="499.7" x2="161.2" y2="499.7" stroke-width="1.4"/>
<line x1="139.7" y1="505.7" x2="161.2" y2="505.7" stroke-width="1.4"/>
<line x1="139.7" y1="511.2" x2="161.2" y2="511.2" stroke-width="1.4"/>
<polygon points="216.8,466.95 218.8,470.65 214.8,470.65" stroke-width="1.1"/>
<polygon points="216.8,483.55 218.8,487.25 214.8,487.25" stroke-width="1.1"/>
<polygon points="216.8,487.05 218.8,490.75 214.8,490.75" stroke-width="1.1"/>
<polygon points="216.8,490.45 218.8,494.15 214.8,494.15" stroke-width="1.1"/>
<polygon points="216.8,493.35 218.8,497.05 214.8,497.05" stroke-width="1.1"/>
<polygon points="216.8,499.15 218.8,502.85 214.8,502.85" stroke-width="1.1"/>
<polygon points="216.8,503.15 218.8,506.85 214.8,506.85" stroke-width="1.1"/>
<polygon points="216.8,505.65 218.8,509.35 214.8,509.35" stroke-width="1.1"/>
<polygon points="216.8,508.15 218.8,511.85 214.8,511.85" stroke-width="1.1"/>
<polygon points="216.8,509.85 218.8,513.55 214.8,513.55" stroke-width="1.1"/>
<polygon points="216.8,511.55 218.8,515.25 214.8,515.25" stroke-width="1.1"/>
<polygon points="216.8,513.25 218.8,516.95 214.8,516.95" stroke-width="1.1"/>
<polygon points="216.8,514.95 218.8,518.65 214.8,518.65" stroke-width="1.1"/>
<polygon points="216.8,516.65 218.8,520.35 214.8,520.35" stroke-width="1.1"/>
<polygon points="216.8,518.35 218.8,522.05 214.8,522.05" stroke-width="1.1"/>
<polygon points="216.8,520.05 218.8,523.75 214.8,523.75" stroke-width="1.1"/>
<polygon points="216.8,521.75 218.8,525.45 214.8,525.45" stroke-width="1.1"/>
<polygon points="216.8,523.45 218.8,527.15 214.8,527.15" stroke-width="1.1"/>
<polygon points="216.8,525.15 218.8,528.85 214.8,528.85" stroke-width="1.1"/>
<polygon points="216.8,526.85 218.8,530.55 214.8,530.55" stroke-width="1.1"/>
<polygon points="216.8,528.55 218.8,532.25 214.8,532.25" stroke-width="1.1"/>
<polygon points="216.8,530.25 218.8,533.95 214.8,533.95" stroke-width="1.1"/>
<polygon points="216.8,531.95 218.8,535.65 214.8,535.65" stroke-width="1.1"/>
<polygon points="216.8,533.65 218.8,537.35 214.8,537.35" stroke-width="1.1"/>
<polygon points="216.8,535.35 218.8,539.05 214.8,539.05" stroke-width="1.1"/>
<polygon points="216.8,537.05 218.8,540.75 214.8,540.75" stroke-width="1.1"/>
<line x1="206.2" y1="508.5" x2="228" y2="508.5" stroke-width="1.4"/>
<line x1="206.2" y1="512" x2="228" y2="512" stroke-width="1.4"/>
<line x1="206.2" y1="515.4" x2="228" y2="515.4" stroke-width="1.4"/>
<rect x="323.5" y="507.1" width="80" height="17.5" fill="#b9b9b9" stroke="none"/>
<line x1="325" y1="515.6" x2="402.5" y2="515.6" stroke-width="1.75" stroke-dasharray="4.3 3.8"/>
<rect x="424.7" y="529.6" width="81" height="9.4" fill="#b9b9b9" stroke="none"/>
<line x1="426.2" y1="534.9" x2="504.7" y2="534.9" stroke-width="1.75" stroke-dasharray="4.3 3.8"/>
<line x1="312.5" y1="401.3" x2="312.5" y2="540.1" stroke-width="1.6"/>
<line x1="311.7" y1="539.5" x2="514.9" y2="539.5" stroke-width="1.6"/>
<line x1="309.1" y1="539.5" x2="312.5" y2="539.5" stroke-width="1"/>
<text x="306.9" y="542.6" font-size="8.8" text-anchor="end">0</text>
<line x1="309.1" y1="516.9" x2="312.5" y2="516.9" stroke-width="1"/>
<text x="306.9" y="520" font-size="8.8" text-anchor="end">10</text>
<line x1="309.1" y1="494.3" x2="312.5" y2="494.3" stroke-width="1"/>
<text x="306.9" y="497.4" font-size="8.8" text-anchor="end">20</text>
<line x1="309.1" y1="471.7" x2="312.5" y2="471.7" stroke-width="1"/>
<text x="306.9" y="474.8" font-size="8.8" text-anchor="end">30</text>
<line x1="309.1" y1="449.1" x2="312.5" y2="449.1" stroke-width="1"/>
<text x="306.9" y="452.2" font-size="8.8" text-anchor="end">40</text>
<line x1="309.1" y1="426.5" x2="312.5" y2="426.5" stroke-width="1"/>
<text x="306.9" y="429.6" font-size="8.8" text-anchor="end">50</text>
<line x1="309.1" y1="403.9" x2="312.5" y2="403.9" stroke-width="1"/>
<text x="306.9" y="407" font-size="8.8" text-anchor="end">60</text>
<line x1="363.6" y1="539.5" x2="363.6" y2="542.7" stroke-width="1"/>
<line x1="464.6" y1="539.5" x2="464.6" y2="542.7" stroke-width="1"/>
<text transform="translate(290.5,472) rotate(-90)" font-size="9.6" font-weight="bold" text-anchor="middle" textLength="86.8" lengthAdjust="spacingAndGlyphs">Percent CD56<tspan font-size="6.53" dy="-3.2">bright</tspan><tspan dy="3.2"> NK cells</tspan></text>
<text x="362.4" y="556.8" font-size="8.9" text-anchor="middle" letter-spacing="0.25">CD117<tspan font-size="6.6" dy="-2.9">+</tspan></text>
<text x="465" y="556.8" font-size="8.9" text-anchor="middle" letter-spacing="0.25">CD117<tspan font-size="6.6" dy="-2.9">-</tspan></text>
<circle cx="335.6" cy="419.3" r="1.7" stroke-width="1.2"/>
<circle cx="335.6" cy="463" r="1.7" stroke-width="1.2"/>
<circle cx="335.6" cy="465.1" r="1.7" stroke-width="1.2"/>
<circle cx="335.6" cy="467.6" r="1.7" stroke-width="1.2"/>
<circle cx="335.6" cy="470.4" r="1.7" stroke-width="1.2"/>
<circle cx="335.6" cy="479.4" r="1.7" stroke-width="1.2"/>
<circle cx="335.6" cy="489" r="1.7" stroke-width="1.2"/>
<circle cx="335.6" cy="491" r="1.7" stroke-width="1.2"/>
<circle cx="335.6" cy="493" r="1.7" stroke-width="1.2"/>
<circle cx="335.6" cy="495" r="1.7" stroke-width="1.2"/>
<circle cx="335.6" cy="497" r="1.7" stroke-width="1.2"/>
<circle cx="335.6" cy="501.5" r="1.7" stroke-width="1.2"/>
<circle cx="335.6" cy="515.5" r="1.7" stroke-width="1.2"/>
<circle cx="335.6" cy="518.7" r="1.7" stroke-width="1.2"/>
<circle cx="335.6" cy="521.8" r="1.7" stroke-width="1.2"/>
<circle cx="335.6" cy="525.6" r="1.7" stroke-width="1.2"/>
<circle cx="335.6" cy="528.6" r="1.7" stroke-width="1.2"/>
<circle cx="335.6" cy="536.6" r="1.7" stroke-width="1.2"/>
<line x1="327.1" y1="494.4" x2="344.6" y2="494.4" stroke-width="1.5"/>
<line x1="331.2" y1="488.6" x2="340.2" y2="488.6" stroke-width="1.3"/>
<line x1="331.2" y1="500" x2="340.2" y2="500" stroke-width="1.3"/>
<rect x="361.9" y="406.3" width="3.4" height="3.4" stroke-width="1.2"/>
<rect x="361.9" y="426.1" width="3.4" height="3.4" stroke-width="1.2"/>
<rect x="361.9" y="458.6" width="3.4" height="3.4" stroke-width="1.2"/>
<rect x="361.9" y="463.8" width="3.4" height="3.4" stroke-width="1.2"/>
<rect x="361.9" y="466.8" width="3.4" height="3.4" stroke-width="1.2"/>
<rect x="361.9" y="470.8" width="3.4" height="3.4" stroke-width="1.2"/>
<rect x="361.9" y="475" width="3.4" height="3.4" stroke-width="1.2"/>
<rect x="361.9" y="477.8" width="3.4" height="3.4" stroke-width="1.2"/>
<rect x="361.9" y="480.8" width="3.4" height="3.4" stroke-width="1.2"/>
<rect x="361.9" y="483.3" width="3.4" height="3.4" stroke-width="1.2"/>
<rect x="361.9" y="485.8" width="3.4" height="3.4" stroke-width="1.2"/>
<rect x="361.9" y="488.3" width="3.4" height="3.4" stroke-width="1.2"/>
<rect x="361.9" y="490.8" width="3.4" height="3.4" stroke-width="1.2"/>
<rect x="361.9" y="493.3" width="3.4" height="3.4" stroke-width="1.2"/>
<rect x="361.9" y="495.8" width="3.4" height="3.4" stroke-width="1.2"/>
<rect x="361.9" y="500.2" width="3.4" height="3.4" stroke-width="1.2"/>
<rect x="361.9" y="511.7" width="3.4" height="3.4" stroke-width="1.2"/>
<rect x="361.9" y="518.5" width="3.4" height="3.4" stroke-width="1.2"/>
<rect x="361.9" y="524.3" width="3.4" height="3.4" stroke-width="1.2"/>
<rect x="361.9" y="529.6" width="3.4" height="3.4" stroke-width="1.2"/>
<rect x="361.9" y="532.8" width="3.4" height="3.4" stroke-width="1.2"/>
<line x1="354.5" y1="489.3" x2="372.6" y2="489.3" stroke-width="1.5"/>
<line x1="359" y1="483.6" x2="368" y2="483.6" stroke-width="1.3"/>
<line x1="359" y1="494.5" x2="368" y2="494.5" stroke-width="1.3"/>
<polygon points="390.9,435.55 392.9,439.25 388.9,439.25" stroke-width="1.1"/>
<polygon points="390.9,439.15 392.9,442.85 388.9,442.85" stroke-width="1.1"/>
<polygon points="390.9,448.55 392.9,452.25 388.9,452.25" stroke-width="1.1"/>
<polygon points="390.9,451.05 392.9,454.75 388.9,454.75" stroke-width="1.1"/>
<polygon points="390.9,453.15 392.9,456.85 388.9,456.85" stroke-width="1.1"/>
<polygon points="390.9,459.05 392.9,462.75 388.9,462.75" stroke-width="1.1"/>
<polygon points="390.9,463.25 392.9,466.95 388.9,466.95" stroke-width="1.1"/>
<polygon points="390.9,473.75 392.9,477.45 388.9,477.45" stroke-width="1.1"/>
<polygon points="390.9,476.35 392.9,480.05 388.9,480.05" stroke-width="1.1"/>
<polygon points="390.9,479.15 392.9,482.85 388.9,482.85" stroke-width="1.1"/>
<polygon points="390.9,482.15 392.9,485.85 388.9,485.85" stroke-width="1.1"/>
<polygon points="390.9,490.55 392.9,494.25 388.9,494.25" stroke-width="1.1"/>
<polygon points="390.9,493.75 392.9,497.45 388.9,497.45" stroke-width="1.1"/>
<polygon points="390.9,496.65 392.9,500.35 388.9,500.35" stroke-width="1.1"/>
<polygon points="390.9,506.35 392.9,510.05 388.9,510.05" stroke-width="1.1"/>
<polygon points="390.9,508.65 392.9,512.35 388.9,512.35" stroke-width="1.1"/>
<polygon points="390.9,519.55 392.9,523.25 388.9,523.25" stroke-width="1.1"/>
<polygon points="390.9,526.35 392.9,530.05 388.9,530.05" stroke-width="1.1"/>
<polygon points="390.9,533.65 392.9,537.35 388.9,537.35" stroke-width="1.1"/>
<line x1="381.8" y1="483.6" x2="399.9" y2="483.6" stroke-width="1.5"/>
<line x1="386.5" y1="478.8" x2="395.5" y2="478.8" stroke-width="1.3"/>
<line x1="386.5" y1="488.2" x2="395.5" y2="488.2" stroke-width="1.3"/>
<circle cx="436.5" cy="498.5" r="1.7" stroke-width="1.2"/>
<circle cx="436.5" cy="507.7" r="1.7" stroke-width="1.2"/>
<circle cx="436.5" cy="510.5" r="1.7" stroke-width="1.2"/>
<circle cx="436.5" cy="515" r="1.7" stroke-width="1.2"/>
<circle cx="436.5" cy="517" r="1.7" stroke-width="1.2"/>
<circle cx="436.5" cy="519" r="1.7" stroke-width="1.2"/>
<circle cx="436.5" cy="521" r="1.7" stroke-width="1.2"/>
<circle cx="436.5" cy="523" r="1.7" stroke-width="1.2"/>
<circle cx="436.5" cy="525" r="1.7" stroke-width="1.2"/>
<circle cx="436.5" cy="526.6" r="1.7" stroke-width="1.2"/>
<circle cx="436.5" cy="528.2" r="1.7" stroke-width="1.2"/>
<circle cx="436.5" cy="529.8" r="1.7" stroke-width="1.2"/>
<circle cx="436.5" cy="531.4" r="1.7" stroke-width="1.2"/>
<circle cx="436.5" cy="533" r="1.7" stroke-width="1.2"/>
<circle cx="436.5" cy="534.6" r="1.7" stroke-width="1.2"/>
<circle cx="436.5" cy="536.2" r="1.7" stroke-width="1.2"/>
<circle cx="436.5" cy="537.8" r="1.7" stroke-width="1.2"/>
<line x1="427.7" y1="523.4" x2="446.2" y2="523.4" stroke-width="1.5"/>
<line x1="432.5" y1="520.5" x2="441.5" y2="520.5" stroke-width="1.2"/>
<line x1="432.5" y1="526.4" x2="441.5" y2="526.4" stroke-width="1.2"/>
<rect x="462.9" y="469.5" width="3.4" height="3.4" stroke-width="1.2"/>
<rect x="462.9" y="492.1" width="3.4" height="3.4" stroke-width="1.2"/>
<rect x="462.9" y="499.5" width="3.4" height="3.4" stroke-width="1.2"/>
<rect x="462.9" y="503.7" width="3.4" height="3.4" stroke-width="1.2"/>
<rect x="462.9" y="507.1" width="3.4" height="3.4" stroke-width="1.2"/>
<rect x="462.9" y="509.3" width="3.4" height="3.4" stroke-width="1.2"/>
<rect x="462.9" y="511.8" width="3.4" height="3.4" stroke-width="1.2"/>
<rect x="462.9" y="514.3" width="3.4" height="3.4" stroke-width="1.2"/>
<rect x="462.9" y="516.3" width="3.4" height="3.4" stroke-width="1.2"/>
<rect x="462.9" y="518" width="3.4" height="3.4" stroke-width="1.2"/>
<rect x="462.9" y="519.7" width="3.4" height="3.4" stroke-width="1.2"/>
<rect x="462.9" y="521.4" width="3.4" height="3.4" stroke-width="1.2"/>
<rect x="462.9" y="523.1" width="3.4" height="3.4" stroke-width="1.2"/>
<rect x="462.9" y="524.8" width="3.4" height="3.4" stroke-width="1.2"/>
<rect x="462.9" y="526.5" width="3.4" height="3.4" stroke-width="1.2"/>
<rect x="462.9" y="528.2" width="3.4" height="3.4" stroke-width="1.2"/>
<rect x="462.9" y="529.9" width="3.4" height="3.4" stroke-width="1.2"/>
<rect x="462.9" y="531.6" width="3.4" height="3.4" stroke-width="1.2"/>
<rect x="462.9" y="533.3" width="3.4" height="3.4" stroke-width="1.2"/>
<rect x="462.9" y="535" width="3.4" height="3.4" stroke-width="1.2"/>
<rect x="462.9" y="536.7" width="3.4" height="3.4" stroke-width="1.2"/>
<line x1="455.4" y1="519.7" x2="473.9" y2="519.7" stroke-width="1.5"/>
<line x1="460" y1="516.5" x2="469" y2="516.5" stroke-width="1.2"/>
<line x1="460" y1="523" x2="469" y2="523" stroke-width="1.2"/>
<polygon points="492.3,473.05 494.3,476.75 490.3,476.75" stroke-width="1.1"/>
<polygon points="492.3,483.25 494.3,486.95 490.3,486.95" stroke-width="1.1"/>
<polygon points="492.3,487.85 494.3,491.55 490.3,491.55" stroke-width="1.1"/>
<polygon points="492.3,490.85 494.3,494.55 490.3,494.55" stroke-width="1.1"/>
<polygon points="492.3,494.35 494.3,498.05 490.3,498.05" stroke-width="1.1"/>
<polygon points="492.3,496.65 494.3,500.35 490.3,500.35" stroke-width="1.1"/>
<polygon points="492.3,498.55 494.3,502.25 490.3,502.25" stroke-width="1.1"/>
<polygon points="492.3,500.45 494.3,504.15 490.3,504.15" stroke-width="1.1"/>
<polygon points="492.3,502.35 494.3,506.05 490.3,506.05" stroke-width="1.1"/>
<polygon points="492.3,504.25 494.3,507.95 490.3,507.95" stroke-width="1.1"/>
<polygon points="492.3,506.15 494.3,509.85 490.3,509.85" stroke-width="1.1"/>
<polygon points="492.3,508.05 494.3,511.75 490.3,511.75" stroke-width="1.1"/>
<polygon points="492.3,509.95 494.3,513.65 490.3,513.65" stroke-width="1.1"/>
<polygon points="492.3,511.85 494.3,515.55 490.3,515.55" stroke-width="1.1"/>
<polygon points="492.3,513.75 494.3,517.45 490.3,517.45" stroke-width="1.1"/>
<polygon points="492.3,515.65 494.3,519.35 490.3,519.35" stroke-width="1.1"/>
<polygon points="492.3,517.55 494.3,521.25 490.3,521.25" stroke-width="1.1"/>
<polygon points="492.3,519.45 494.3,523.15 490.3,523.15" stroke-width="1.1"/>
<polygon points="492.3,521.35 494.3,525.05 490.3,525.05" stroke-width="1.1"/>
<polygon points="492.3,523.25 494.3,526.95 490.3,526.95" stroke-width="1.1"/>
<polygon points="492.3,525.15 494.3,528.85 490.3,528.85" stroke-width="1.1"/>
<polygon points="492.3,527.05 494.3,530.75 490.3,530.75" stroke-width="1.1"/>
<polygon points="492.3,528.95 494.3,532.65 490.3,532.65" stroke-width="1.1"/>
<polygon points="492.3,530.85 494.3,534.55 490.3,534.55" stroke-width="1.1"/>
<polygon points="492.3,532.75 494.3,536.45 490.3,536.45" stroke-width="1.1"/>
<polygon points="492.3,534.65 494.3,538.35 490.3,538.35" stroke-width="1.1"/>
<polygon points="492.3,536.55 494.3,540.25 490.3,540.25" stroke-width="1.1"/>
<line x1="482.6" y1="513.5" x2="501.5" y2="513.5" stroke-width="1.5"/>
<line x1="487.5" y1="510.8" x2="496.5" y2="510.8" stroke-width="1.2"/>
<line x1="487.5" y1="516.2" x2="496.5" y2="516.2" stroke-width="1.2"/>
<rect x="54.3" y="656.5" width="59.7" height="16.5" fill="#b9b9b9" stroke="none"/>
<line x1="55.8" y1="664.7" x2="113" y2="664.7" stroke-width="1.75" stroke-dasharray="4.3 3.8"/>
<rect x="120.2" y="647.4" width="60.3" height="17.7" fill="#b9b9b9" stroke="none"/>
<line x1="121.7" y1="657.2" x2="179.5" y2="657.2" stroke-width="1.75" stroke-dasharray="4.3 3.8"/>
<rect x="187.4" y="641.2" width="60" height="12" fill="#b9b9b9" stroke="none"/>
<line x1="188.9" y1="646.4" x2="246.4" y2="646.4" stroke-width="1.75" stroke-dasharray="4.3 3.8"/>
<line x1="51.25" y1="582" x2="51.25" y2="718.9" stroke-width="1.6"/>
<line x1="50.45" y1="718.3" x2="249.9" y2="718.3" stroke-width="1.6"/>
<line x1="47.85" y1="718.3" x2="51.25" y2="718.3" stroke-width="1"/>
<text x="45.65" y="721.4" font-size="8.8" text-anchor="end">0</text>
<line x1="47.85" y1="691.44" x2="51.25" y2="691.44" stroke-width="1"/>
<text x="45.65" y="694.54" font-size="8.8" text-anchor="end">20</text>
<line x1="47.85" y1="664.58" x2="51.25" y2="664.58" stroke-width="1"/>
<text x="45.65" y="667.68" font-size="8.8" text-anchor="end">40</text>
<line x1="47.85" y1="637.72" x2="51.25" y2="637.72" stroke-width="1"/>
<text x="45.65" y="640.82" font-size="8.8" text-anchor="end">60</text>
<line x1="47.85" y1="610.86" x2="51.25" y2="610.86" stroke-width="1"/>
<text x="45.65" y="613.96" font-size="8.8" text-anchor="end">80</text>
<line x1="47.85" y1="584" x2="51.25" y2="584" stroke-width="1"/>
<text x="45.65" y="587.1" font-size="8.8" text-anchor="end">100</text>
<line x1="84.2" y1="718.3" x2="84.2" y2="721.5" stroke-width="1"/>
<line x1="150.3" y1="718.3" x2="150.3" y2="721.5" stroke-width="1"/>
<line x1="216.4" y1="718.3" x2="216.4" y2="721.5" stroke-width="1"/>
<text transform="translate(23.4,651) rotate(-90)" font-size="9.6" font-weight="bold" text-anchor="middle" textLength="81" lengthAdjust="spacingAndGlyphs">Percent CD56<tspan font-size="6.53" dy="-3.2">dim</tspan><tspan dy="3.2"> NK cells</tspan></text>
<text x="83.8" y="735.6" font-size="8.9" text-anchor="middle" letter-spacing="0.25">NKG2A<tspan font-size="6.6" dy="-2.9">+</tspan></text>
<text x="150" y="735.6" font-size="8.9" text-anchor="middle" letter-spacing="0.25">KIR<tspan font-size="6.6" dy="-2.9">+</tspan></text>
<text x="217.3" y="735.6" font-size="8.9" text-anchor="middle" letter-spacing="0.25">CD57<tspan font-size="6.6" dy="-2.9">-</tspan></text>
<circle cx="66.2" cy="606.6" r="1.7" stroke-width="1.2"/>
<circle cx="66.2" cy="609.5" r="1.7" stroke-width="1.2"/>
<circle cx="66.2" cy="612.5" r="1.7" stroke-width="1.2"/>
<circle cx="66.2" cy="616.5" r="1.7" stroke-width="1.2"/>
<circle cx="66.2" cy="627.8" r="1.7" stroke-width="1.2"/>
<circle cx="66.2" cy="629.3" r="1.7" stroke-width="1.2"/>
<circle cx="66.2" cy="632" r="1.7" stroke-width="1.2"/>
<circle cx="66.2" cy="636" r="1.7" stroke-width="1.2"/>
<circle cx="66.2" cy="641" r="1.7" stroke-width="1.2"/>
<circle cx="66.2" cy="643" r="1.7" stroke-width="1.2"/>
<circle cx="66.2" cy="646" r="1.7" stroke-width="1.2"/>
<circle cx="66.2" cy="649" r="1.7" stroke-width="1.2"/>
<circle cx="66.2" cy="652" r="1.7" stroke-width="1.2"/>
<circle cx="66.2" cy="654.5" r="1.7" stroke-width="1.2"/>
<circle cx="66.2" cy="673.6" r="1.7" stroke-width="1.2"/>
<circle cx="66.2" cy="688.8" r="1.7" stroke-width="1.2"/>
<circle cx="66.2" cy="702.6" r="1.7" stroke-width="1.2"/>
<line x1="59.9" y1="637.7" x2="72.7" y2="637.7" stroke-width="1.5"/>
<line x1="63" y1="634.5" x2="69.5" y2="634.5" stroke-width="1.2"/>
<line x1="63" y1="641" x2="69.5" y2="641" stroke-width="1.2"/>
<rect x="82.4" y="593.7" width="3.4" height="3.4" stroke-width="1.2"/>
<rect x="82.4" y="603.9" width="3.4" height="3.4" stroke-width="1.2"/>
<rect x="82.4" y="608.8" width="3.4" height="3.4" stroke-width="1.2"/>
<rect x="82.4" y="611.3" width="3.4" height="3.4" stroke-width="1.2"/>
<rect x="82.4" y="614.3" width="3.4" height="3.4" stroke-width="1.2"/>
<rect x="82.4" y="616.8" width="3.4" height="3.4" stroke-width="1.2"/>
<rect x="82.4" y="619.3" width="3.4" height="3.4" stroke-width="1.2"/>
<rect x="82.4" y="621.8" width="3.4" height="3.4" stroke-width="1.2"/>
<rect x="82.4" y="624.3" width="3.4" height="3.4" stroke-width="1.2"/>
<rect x="82.4" y="626.8" width="3.4" height="3.4" stroke-width="1.2"/>
<rect x="82.4" y="629.3" width="3.4" height="3.4" stroke-width="1.2"/>
<rect x="82.4" y="632.3" width="3.4" height="3.4" stroke-width="1.2"/>
<rect x="82.4" y="635.3" width="3.4" height="3.4" stroke-width="1.2"/>
<rect x="82.4" y="638.3" width="3.4" height="3.4" stroke-width="1.2"/>
<rect x="82.4" y="643.3" width="3.4" height="3.4" stroke-width="1.2"/>
<rect x="82.4" y="650.3" width="3.4" height="3.4" stroke-width="1.2"/>
<rect x="82.4" y="652.3" width="3.4" height="3.4" stroke-width="1.2"/>
<rect x="82.4" y="668" width="3.4" height="3.4" stroke-width="1.2"/>
<rect x="82.4" y="670.9" width="3.4" height="3.4" stroke-width="1.2"/>
<rect x="82.4" y="680.8" width="3.4" height="3.4" stroke-width="1.2"/>
<rect x="82.4" y="686.3" width="3.4" height="3.4" stroke-width="1.2"/>
<rect x="82.4" y="708.3" width="3.4" height="3.4" stroke-width="1.2"/>
<line x1="78" y1="638.5" x2="90.4" y2="638.5" stroke-width="1.5"/>
<line x1="81" y1="635.2" x2="87.3" y2="635.2" stroke-width="1.2"/>
<line x1="81" y1="641.8" x2="87.3" y2="641.8" stroke-width="1.2"/>
<polygon points="102.2,594.85 104.2,598.55 100.2,598.55" stroke-width="1.1"/>
<polygon points="102.2,597.15 104.2,600.85 100.2,600.85" stroke-width="1.1"/>
<polygon points="102.2,599.65 104.2,603.35 100.2,603.35" stroke-width="1.1"/>
<polygon points="102.2,602.15 104.2,605.85 100.2,605.85" stroke-width="1.1"/>
<polygon points="102.2,604.65 104.2,608.35 100.2,608.35" stroke-width="1.1"/>
<polygon points="102.2,607.15 104.2,610.85 100.2,610.85" stroke-width="1.1"/>
<polygon points="102.2,609.65 104.2,613.35 100.2,613.35" stroke-width="1.1"/>
<polygon points="102.2,612.15 104.2,615.85 100.2,615.85" stroke-width="1.1"/>
<polygon points="102.2,614.65 104.2,618.35 100.2,618.35" stroke-width="1.1"/>
<polygon points="102.2,621.45 104.2,625.15 100.2,625.15" stroke-width="1.1"/>
<polygon points="102.2,624.65 104.2,628.35 100.2,628.35" stroke-width="1.1"/>
<polygon points="102.2,628.15 104.2,631.85 100.2,631.85" stroke-width="1.1"/>
<polygon points="102.2,630.35 104.2,634.05 100.2,634.05" stroke-width="1.1"/>
<polygon points="102.2,633.15 104.2,636.85 100.2,636.85" stroke-width="1.1"/>
<polygon points="102.2,637.15 104.2,640.85 100.2,640.85" stroke-width="1.1"/>
<polygon points="102.2,640.15 104.2,643.85 100.2,643.85" stroke-width="1.1"/>
<polygon points="102.2,643.15 104.2,646.85 100.2,646.85" stroke-width="1.1"/>
<polygon points="102.2,652.15 104.2,655.85 100.2,655.85" stroke-width="1.1"/>
<polygon points="102.2,655.95 104.2,659.65 100.2,659.65" stroke-width="1.1"/>
<polygon points="102.2,660.95 104.2,664.65 100.2,664.65" stroke-width="1.1"/>
<polygon points="102.2,672.35 104.2,676.05 100.2,676.05" stroke-width="1.1"/>
<polygon points="102.2,678.65 104.2,682.35 100.2,682.35" stroke-width="1.1"/>
<line x1="96.3" y1="629.9" x2="108.1" y2="629.9" stroke-width="1.5"/>
<line x1="99.2" y1="626.5" x2="105.2" y2="626.5" stroke-width="1.2"/>
<line x1="99.2" y1="633.2" x2="105.2" y2="633.2" stroke-width="1.2"/>
<circle cx="132.1" cy="616.5" r="1.7" stroke-width="1.2"/>
<circle cx="132.1" cy="621.4" r="1.7" stroke-width="1.2"/>
<circle cx="132.1" cy="654" r="1.7" stroke-width="1.2"/>
<circle cx="132.1" cy="657.8" r="1.7" stroke-width="1.2"/>
<circle cx="132.1" cy="661" r="1.7" stroke-width="1.2"/>
<circle cx="132.1" cy="664" r="1.7" stroke-width="1.2"/>
<circle cx="132.1" cy="667" r="1.7" stroke-width="1.2"/>
<circle cx="132.1" cy="669.5" r="1.7" stroke-width="1.2"/>
<circle cx="132.1" cy="672" r="1.7" stroke-width="1.2"/>
<circle cx="132.1" cy="674.6" r="1.7" stroke-width="1.2"/>
<circle cx="132.1" cy="682.5" r="1.7" stroke-width="1.2"/>
<circle cx="132.1" cy="686.4" r="1.7" stroke-width="1.2"/>
<circle cx="132.1" cy="696.3" r="1.7" stroke-width="1.2"/>
<circle cx="132.1" cy="704" r="1.7" stroke-width="1.2"/>
<circle cx="132.1" cy="707.7" r="1.7" stroke-width="1.2"/>
<circle cx="132.1" cy="712" r="1.7" stroke-width="1.2"/>
<line x1="126.2" y1="672.2" x2="138.6" y2="672.2" stroke-width="1.5"/>
<line x1="129.3" y1="669" x2="135.5" y2="669" stroke-width="1.2"/>
<line x1="129.3" y1="675.5" x2="135.5" y2="675.5" stroke-width="1.2"/>
<rect x="148.7" y="624.6" width="3.4" height="3.4" stroke-width="1.2"/>
<rect x="148.7" y="641.3" width="3.4" height="3.4" stroke-width="1.2"/>
<rect x="148.7" y="644.3" width="3.4" height="3.4" stroke-width="1.2"/>
<rect x="148.7" y="646.7" width="3.4" height="3.4" stroke-width="1.2"/>
<rect x="148.7" y="649.1" width="3.4" height="3.4" stroke-width="1.2"/>
<rect x="148.7" y="651.5" width="3.4" height="3.4" stroke-width="1.2"/>
<rect x="148.7" y="653.9" width="3.4" height="3.4" stroke-width="1.2"/>
<rect x="148.7" y="656.3" width="3.4" height="3.4" stroke-width="1.2"/>
<rect x="148.7" y="658.7" width="3.4" height="3.4" stroke-width="1.2"/>
<rect x="148.7" y="661.1" width="3.4" height="3.4" stroke-width="1.2"/>
<rect x="148.7" y="663.5" width="3.4" height="3.4" stroke-width="1.2"/>
<rect x="148.7" y="665.9" width="3.4" height="3.4" stroke-width="1.2"/>
<rect x="148.7" y="668.3" width="3.4" height="3.4" stroke-width="1.2"/>
<rect x="148.7" y="670.7" width="3.4" height="3.4" stroke-width="1.2"/>
<rect x="148.7" y="673.1" width="3.4" height="3.4" stroke-width="1.2"/>
<rect x="148.7" y="675.5" width="3.4" height="3.4" stroke-width="1.2"/>
<rect x="148.7" y="677.9" width="3.4" height="3.4" stroke-width="1.2"/>
<rect x="148.7" y="680.3" width="3.4" height="3.4" stroke-width="1.2"/>
<rect x="148.7" y="682.7" width="3.4" height="3.4" stroke-width="1.2"/>
<rect x="148.7" y="685.1" width="3.4" height="3.4" stroke-width="1.2"/>
<rect x="148.7" y="687.5" width="3.4" height="3.4" stroke-width="1.2"/>
<rect x="148.7" y="689.9" width="3.4" height="3.4" stroke-width="1.2"/>
<rect x="148.7" y="692.3" width="3.4" height="3.4" stroke-width="1.2"/>
<rect x="148.7" y="694.7" width="3.4" height="3.4" stroke-width="1.2"/>
<rect x="148.7" y="697.1" width="3.4" height="3.4" stroke-width="1.2"/>
<rect x="148.7" y="699.5" width="3.4" height="3.4" stroke-width="1.2"/>
<rect x="148.7" y="701.9" width="3.4" height="3.4" stroke-width="1.2"/>
<rect x="148.7" y="704.3" width="3.4" height="3.4" stroke-width="1.2"/>
<line x1="144.5" y1="675.2" x2="156.7" y2="675.2" stroke-width="1.5"/>
<line x1="147.5" y1="672" x2="153.5" y2="672" stroke-width="1.2"/>
<line x1="147.5" y1="678.4" x2="153.5" y2="678.4" stroke-width="1.2"/>
<polygon points="168.1,631.75 170.1,635.45 166.1,635.45" stroke-width="1.1"/>
<polygon points="168.1,638.25 170.1,641.95 166.1,641.95" stroke-width="1.1"/>
<polygon points="168.1,648.15 170.1,651.85 166.1,651.85" stroke-width="1.1"/>
<polygon points="168.1,650.65 170.1,654.35 166.1,654.35" stroke-width="1.1"/>
<polygon points="168.1,653.15 170.1,656.85 166.1,656.85" stroke-width="1.1"/>
<polygon points="168.1,656.15 170.1,659.85 166.1,659.85" stroke-width="1.1"/>
<polygon points="168.1,657.95 170.1,661.65 166.1,661.65" stroke-width="1.1"/>
<polygon points="168.1,659.75 170.1,663.45 166.1,663.45" stroke-width="1.1"/>
<polygon points="168.1,661.55 170.1,665.25 166.1,665.25" stroke-width="1.1"/>
<polygon points="168.1,663.35 170.1,667.05 166.1,667.05" stroke-width="1.1"/>
<polygon points="168.1,665.15 170.1,668.85 166.1,668.85" stroke-width="1.1"/>
<polygon points="168.1,666.95 170.1,670.65 166.1,670.65" stroke-width="1.1"/>
<polygon points="168.1,668.75 170.1,672.45 166.1,672.45" stroke-width="1.1"/>
<polygon points="168.1,670.55 170.1,674.25 166.1,674.25" stroke-width="1.1"/>
<polygon points="168.1,672.35 170.1,676.05 166.1,676.05" stroke-width="1.1"/>
<polygon points="168.1,674.15 170.1,677.85 166.1,677.85" stroke-width="1.1"/>
<polygon points="168.1,675.95 170.1,679.65 166.1,679.65" stroke-width="1.1"/>
<polygon points="168.1,677.75 170.1,681.45 166.1,681.45" stroke-width="1.1"/>
<polygon points="168.1,679.55 170.1,683.25 166.1,683.25" stroke-width="1.1"/>
<polygon points="168.1,681.35 170.1,685.05 166.1,685.05" stroke-width="1.1"/>
<polygon points="168.1,683.15 170.1,686.85 166.1,686.85" stroke-width="1.1"/>
<polygon points="168.1,684.95 170.1,688.65 166.1,688.65" stroke-width="1.1"/>
<polygon points="168.1,686.75 170.1,690.45 166.1,690.45" stroke-width="1.1"/>
<polygon points="168.1,688.55 170.1,692.25 166.1,692.25" stroke-width="1.1"/>
<polygon points="168.1,690.35 170.1,694.05 166.1,694.05" stroke-width="1.1"/>
<polygon points="168.1,692.15 170.1,695.85 166.1,695.85" stroke-width="1.1"/>
<polygon points="168.1,704.25 170.1,707.95 166.1,707.95" stroke-width="1.1"/>
<line x1="162.2" y1="671.2" x2="174.6" y2="671.2" stroke-width="1.5"/>
<line x1="165.3" y1="668" x2="171.5" y2="668" stroke-width="1.2"/>
<line x1="165.3" y1="674.4" x2="171.5" y2="674.4" stroke-width="1.2"/>
<circle cx="198.5" cy="586.8" r="1.7" stroke-width="1.2"/>
<circle cx="198.5" cy="590" r="1.7" stroke-width="1.2"/>
<circle cx="198.5" cy="593.8" r="1.7" stroke-width="1.2"/>
<circle cx="198.5" cy="609" r="1.7" stroke-width="1.2"/>
<circle cx="198.5" cy="619.5" r="1.7" stroke-width="1.2"/>
<circle cx="198.5" cy="622" r="1.7" stroke-width="1.2"/>
<circle cx="198.5" cy="624.5" r="1.7" stroke-width="1.2"/>
<circle cx="198.5" cy="627" r="1.7" stroke-width="1.2"/>
<circle cx="198.5" cy="629.5" r="1.7" stroke-width="1.2"/>
<circle cx="198.5" cy="632" r="1.7" stroke-width="1.2"/>
<circle cx="198.5" cy="634.5" r="1.7" stroke-width="1.2"/>
<circle cx="198.5" cy="637" r="1.7" stroke-width="1.2"/>
<circle cx="198.5" cy="640" r="1.7" stroke-width="1.2"/>
<circle cx="198.5" cy="643" r="1.7" stroke-width="1.2"/>
<circle cx="198.5" cy="646" r="1.7" stroke-width="1.2"/>
<circle cx="198.5" cy="649.6" r="1.7" stroke-width="1.2"/>
<circle cx="198.5" cy="658.8" r="1.7" stroke-width="1.2"/>
<circle cx="198.5" cy="669" r="1.7" stroke-width="1.2"/>
<circle cx="198.5" cy="679.5" r="1.7" stroke-width="1.2"/>
<circle cx="198.5" cy="691" r="1.7" stroke-width="1.2"/>
<line x1="192.6" y1="634.2" x2="204.8" y2="634.2" stroke-width="1.5"/>
<line x1="195.6" y1="631" x2="201.7" y2="631" stroke-width="1.2"/>
<line x1="195.6" y1="637.4" x2="201.7" y2="637.4" stroke-width="1.2"/>
<rect x="214.7" y="584.7" width="3.4" height="3.4" stroke-width="1.2"/>
<rect x="214.7" y="588.3" width="3.4" height="3.4" stroke-width="1.2"/>
<rect x="214.7" y="590.5" width="3.4" height="3.4" stroke-width="1.2"/>
<rect x="214.7" y="592.7" width="3.4" height="3.4" stroke-width="1.2"/>
<rect x="214.7" y="594.9" width="3.4" height="3.4" stroke-width="1.2"/>
<rect x="214.7" y="597.1" width="3.4" height="3.4" stroke-width="1.2"/>
<rect x="214.7" y="599.3" width="3.4" height="3.4" stroke-width="1.2"/>
<rect x="214.7" y="601.5" width="3.4" height="3.4" stroke-width="1.2"/>
<rect x="214.7" y="603.7" width="3.4" height="3.4" stroke-width="1.2"/>
<rect x="214.7" y="605.9" width="3.4" height="3.4" stroke-width="1.2"/>
<rect x="214.7" y="608.1" width="3.4" height="3.4" stroke-width="1.2"/>
<rect x="214.7" y="610.3" width="3.4" height="3.4" stroke-width="1.2"/>
<rect x="214.7" y="612.5" width="3.4" height="3.4" stroke-width="1.2"/>
<rect x="214.7" y="614.7" width="3.4" height="3.4" stroke-width="1.2"/>
<rect x="214.7" y="616.9" width="3.4" height="3.4" stroke-width="1.2"/>
<rect x="214.7" y="619.1" width="3.4" height="3.4" stroke-width="1.2"/>
<rect x="214.7" y="621.3" width="3.4" height="3.4" stroke-width="1.2"/>
<rect x="214.7" y="629.3" width="3.4" height="3.4" stroke-width="1.2"/>
<rect x="214.7" y="632.3" width="3.4" height="3.4" stroke-width="1.2"/>
<rect x="214.7" y="635.3" width="3.4" height="3.4" stroke-width="1.2"/>
<rect x="214.7" y="638.3" width="3.4" height="3.4" stroke-width="1.2"/>
<rect x="214.7" y="641.3" width="3.4" height="3.4" stroke-width="1.2"/>
<rect x="214.7" y="644.3" width="3.4" height="3.4" stroke-width="1.2"/>
<rect x="214.7" y="647.3" width="3.4" height="3.4" stroke-width="1.2"/>
<rect x="214.7" y="650.3" width="3.4" height="3.4" stroke-width="1.2"/>
<rect x="214.7" y="654.2" width="3.4" height="3.4" stroke-width="1.2"/>
<line x1="210.5" y1="620.5" x2="223.2" y2="620.5" stroke-width="1.5"/>
<line x1="213.4" y1="617.6" x2="220.2" y2="617.6" stroke-width="1.2"/>
<line x1="213.4" y1="623.4" x2="220.2" y2="623.4" stroke-width="1.2"/>
<polygon points="234.7,593.75 236.7,597.45 232.7,597.45" stroke-width="1.1"/>
<polygon points="234.7,600.85 236.7,604.55 232.7,604.55" stroke-width="1.1"/>
<polygon points="234.7,602.65 236.7,606.35 232.7,606.35" stroke-width="1.1"/>
<polygon points="234.7,605.65 236.7,609.35 232.7,609.35" stroke-width="1.1"/>
<polygon points="234.7,607.35 236.7,611.05 232.7,611.05" stroke-width="1.1"/>
<polygon points="234.7,609.05 236.7,612.75 232.7,612.75" stroke-width="1.1"/>
<polygon points="234.7,610.75 236.7,614.45 232.7,614.45" stroke-width="1.1"/>
<polygon points="234.7,612.45 236.7,616.15 232.7,616.15" stroke-width="1.1"/>
<polygon points="234.7,614.15 236.7,617.85 232.7,617.85" stroke-width="1.1"/>
<polygon points="234.7,615.85 236.7,619.55 232.7,619.55" stroke-width="1.1"/>
<polygon points="234.7,617.55 236.7,621.25 232.7,621.25" stroke-width="1.1"/>
<polygon points="234.7,619.25 236.7,622.95 232.7,622.95" stroke-width="1.1"/>
<polygon points="234.7,620.95 236.7,624.65 232.7,624.65" stroke-width="1.1"/>
<polygon points="234.7,622.65 236.7,626.35 232.7,626.35" stroke-width="1.1"/>
<polygon points="234.7,624.35 236.7,628.05 232.7,628.05" stroke-width="1.1"/>
<polygon points="234.7,626.05 236.7,629.75 232.7,629.75" stroke-width="1.1"/>
<polygon points="234.7,627.75 236.7,631.45 232.7,631.45" stroke-width="1.1"/>
<polygon points="234.7,629.45 236.7,633.15 232.7,633.15" stroke-width="1.1"/>
<polygon points="234.7,631.15 236.7,634.85 232.7,634.85" stroke-width="1.1"/>
<polygon points="234.7,632.85 236.7,636.55 232.7,636.55" stroke-width="1.1"/>
<polygon points="234.7,634.55 236.7,638.25 232.7,638.25" stroke-width="1.1"/>
<polygon points="234.7,636.25 236.7,639.95 232.7,639.95" stroke-width="1.1"/>
<polygon points="234.7,637.95 236.7,641.65 232.7,641.65" stroke-width="1.1"/>
<polygon points="234.7,641.05 236.7,644.75 232.7,644.75" stroke-width="1.1"/>
<polygon points="234.7,644.05 236.7,647.75 232.7,647.75" stroke-width="1.1"/>
<polygon points="234.7,647.55 236.7,651.25 232.7,651.25" stroke-width="1.1"/>
<polygon points="234.7,651.15 236.7,654.85 232.7,654.85" stroke-width="1.1"/>
<polygon points="234.7,657.65 236.7,661.35 232.7,661.35" stroke-width="1.1"/>
<polygon points="234.7,666.45 236.7,670.15 232.7,670.15" stroke-width="1.1"/>
<line x1="228.4" y1="624.7" x2="241" y2="624.7" stroke-width="1.5"/>
<line x1="231.4" y1="622" x2="238" y2="622" stroke-width="1.2"/>
<line x1="231.4" y1="627.4" x2="238" y2="627.4" stroke-width="1.2"/>
<rect x="317.2" y="654.5" width="189.1" height="11" fill="#b9b9b9" stroke="none"/>
<line x1="318.7" y1="660.2" x2="505.3" y2="660.2" stroke-width="1.75" stroke-dasharray="4.3 3.8"/>
<line x1="312.5" y1="581.3" x2="312.5" y2="717.5" stroke-width="1.6"/>
<line x1="311.7" y1="716.9" x2="511.8" y2="716.9" stroke-width="1.6"/>
<line x1="309.1" y1="716.9" x2="312.5" y2="716.9" stroke-width="1"/>
<text x="306.9" y="720" font-size="8.8" text-anchor="end">0</text>
<line x1="309.1" y1="690.3" x2="312.5" y2="690.3" stroke-width="1"/>
<text x="306.9" y="693.4" font-size="8.8" text-anchor="end">20</text>
<line x1="309.1" y1="663.7" x2="312.5" y2="663.7" stroke-width="1"/>
<text x="306.9" y="666.8" font-size="8.8" text-anchor="end">40</text>
<line x1="309.1" y1="637.1" x2="312.5" y2="637.1" stroke-width="1"/>
<text x="306.9" y="640.2" font-size="8.8" text-anchor="end">60</text>
<line x1="309.1" y1="610.5" x2="312.5" y2="610.5" stroke-width="1"/>
<text x="306.9" y="613.6" font-size="8.8" text-anchor="end">80</text>
<line x1="309.1" y1="583.9" x2="312.5" y2="583.9" stroke-width="1"/>
<text x="306.9" y="587" font-size="8.8" text-anchor="end">100</text>
<line x1="412.1" y1="716.9" x2="412.1" y2="720.1" stroke-width="1"/>
<text transform="translate(285.5,650.2) rotate(-90)" font-size="9.6" font-weight="bold" text-anchor="middle" textLength="81.5" lengthAdjust="spacingAndGlyphs">Percent CD56<tspan font-size="6.53" dy="-3.2">dim</tspan><tspan dy="3.2"> NK cells</tspan></text>
<text x="411" y="734.6" font-size="8.9" text-anchor="middle" letter-spacing="0.25">CD57<tspan font-size="6.6" dy="-2.9">+</tspan></text>
<circle cx="345.5" cy="610.75" r="1.7" stroke-width="1.2"/>
<circle cx="345.5" cy="622" r="1.7" stroke-width="1.2"/>
<circle cx="345.5" cy="633" r="1.7" stroke-width="1.2"/>
<circle cx="345.5" cy="643.25" r="1.7" stroke-width="1.2"/>
<circle cx="345.5" cy="652.2" r="1.7" stroke-width="1.2"/>
<circle cx="345.5" cy="657" r="1.7" stroke-width="1.2"/>
<circle cx="345.5" cy="660" r="1.7" stroke-width="1.2"/>
<circle cx="345.5" cy="663.8" r="1.7" stroke-width="1.2"/>
<circle cx="345.5" cy="666" r="1.7" stroke-width="1.2"/>
<circle cx="345.5" cy="668.5" r="1.7" stroke-width="1.2"/>
<circle cx="345.5" cy="670.2" r="1.7" stroke-width="1.2"/>
<circle cx="345.5" cy="672.5" r="1.7" stroke-width="1.2"/>
<circle cx="345.5" cy="675" r="1.7" stroke-width="1.2"/>
<circle cx="345.5" cy="677.5" r="1.7" stroke-width="1.2"/>
<circle cx="345.5" cy="680.8" r="1.7" stroke-width="1.2"/>
<circle cx="345.5" cy="692.8" r="1.7" stroke-width="1.2"/>
<circle cx="345.5" cy="707.6" r="1.7" stroke-width="1.2"/>
<circle cx="345.5" cy="710.8" r="1.7" stroke-width="1.2"/>
<circle cx="345.5" cy="714.6" r="1.7" stroke-width="1.2"/>
<line x1="334.8" y1="661.3" x2="357" y2="661.3" stroke-width="1.4"/>
<line x1="334.8" y1="667.4" x2="357" y2="667.4" stroke-width="1.4"/>
<line x1="334.8" y1="673.4" x2="357" y2="673.4" stroke-width="1.4"/>
<rect x="410.4" y="643.8" width="3.4" height="3.4" stroke-width="1.2"/>
<rect x="410.4" y="646.4" width="3.4" height="3.4" stroke-width="1.2"/>
<rect x="410.4" y="649" width="3.4" height="3.4" stroke-width="1.2"/>
<rect x="410.4" y="651.6" width="3.4" height="3.4" stroke-width="1.2"/>
<rect x="410.4" y="654.2" width="3.4" height="3.4" stroke-width="1.2"/>
<rect x="410.4" y="656.8" width="3.4" height="3.4" stroke-width="1.2"/>
<rect x="410.4" y="659.4" width="3.4" height="3.4" stroke-width="1.2"/>
<rect x="410.4" y="662" width="3.4" height="3.4" stroke-width="1.2"/>
<rect x="410.4" y="664.6" width="3.4" height="3.4" stroke-width="1.2"/>
<rect x="410.4" y="667.2" width="3.4" height="3.4" stroke-width="1.2"/>
<rect x="410.4" y="673.8" width="3.4" height="3.4" stroke-width="1.2"/>
<rect x="410.4" y="676.3" width="3.4" height="3.4" stroke-width="1.2"/>
<rect x="410.4" y="678.8" width="3.4" height="3.4" stroke-width="1.2"/>
<rect x="410.4" y="681.3" width="3.4" height="3.4" stroke-width="1.2"/>
<rect x="410.4" y="683.8" width="3.4" height="3.4" stroke-width="1.2"/>
<rect x="410.4" y="686.3" width="3.4" height="3.4" stroke-width="1.2"/>
<rect x="410.4" y="688.8" width="3.4" height="3.4" stroke-width="1.2"/>
<rect x="410.4" y="691.3" width="3.4" height="3.4" stroke-width="1.2"/>
<rect x="410.4" y="697.8" width="3.4" height="3.4" stroke-width="1.2"/>
<rect x="410.4" y="700.2" width="3.4" height="3.4" stroke-width="1.2"/>
<rect x="410.4" y="702.6" width="3.4" height="3.4" stroke-width="1.2"/>
<rect x="410.4" y="705" width="3.4" height="3.4" stroke-width="1.2"/>
<rect x="410.4" y="712.8" width="3.4" height="3.4" stroke-width="1.2"/>
<line x1="400.5" y1="677.5" x2="422.5" y2="677.5" stroke-width="1.4"/>
<line x1="400.5" y1="681.2" x2="422.5" y2="681.2" stroke-width="1.4"/>
<line x1="400.5" y1="684.6" x2="422.5" y2="684.6" stroke-width="1.4"/>
<polygon points="478,631.45 480,635.15 476,635.15" stroke-width="1.1"/>
<polygon points="478,639.75 480,643.45 476,643.45" stroke-width="1.1"/>
<polygon points="478,646.85 480,650.55 476,650.55" stroke-width="1.1"/>
<polygon points="478,648.55 480,652.25 476,652.25" stroke-width="1.1"/>
<polygon points="478,650.35 480,654.05 476,654.05" stroke-width="1.1"/>
<polygon points="478,656.25 480,659.95 476,659.95" stroke-width="1.1"/>
<polygon points="478,658.65 480,662.35 476,662.35" stroke-width="1.1"/>
<polygon points="478,661.05 480,664.75 476,664.75" stroke-width="1.1"/>
<polygon points="478,662.65 480,666.35 476,666.35" stroke-width="1.1"/>
<polygon points="478,664.25 480,667.95 476,667.95" stroke-width="1.1"/>
<polygon points="478,665.85 480,669.55 476,669.55" stroke-width="1.1"/>
<polygon points="478,667.45 480,671.15 476,671.15" stroke-width="1.1"/>
<polygon points="478,669.05 480,672.75 476,672.75" stroke-width="1.1"/>
<polygon points="478,670.65 480,674.35 476,674.35" stroke-width="1.1"/>
<polygon points="478,672.25 480,675.95 476,675.95" stroke-width="1.1"/>
<polygon points="478,673.85 480,677.55 476,677.55" stroke-width="1.1"/>
<polygon points="478,675.45 480,679.15 476,679.15" stroke-width="1.1"/>
<polygon points="478,677.05 480,680.75 476,680.75" stroke-width="1.1"/>
<polygon points="478,678.65 480,682.35 476,682.35" stroke-width="1.1"/>
<polygon points="478,680.25 480,683.95 476,683.95" stroke-width="1.1"/>
<polygon points="478,681.85 480,685.55 476,685.55" stroke-width="1.1"/>
<polygon points="478,683.45 480,687.15 476,687.15" stroke-width="1.1"/>
<polygon points="478,685.05 480,688.75 476,688.75" stroke-width="1.1"/>
<polygon points="478,686.65 480,690.35 476,690.35" stroke-width="1.1"/>
<polygon points="478,688.25 480,691.95 476,691.95" stroke-width="1.1"/>
<polygon points="478,689.85 480,693.55 476,693.55" stroke-width="1.1"/>
<polygon points="478,691.45 480,695.15 476,695.15" stroke-width="1.1"/>
<polygon points="478,694.15 480,697.85 476,697.85" stroke-width="1.1"/>
<polygon points="478,697.15 480,700.85 476,700.85" stroke-width="1.1"/>
<polygon points="478,698.85 480,702.55 476,702.55" stroke-width="1.1"/>
<polygon points="478,704.85 480,708.55 476,708.55" stroke-width="1.1"/>
<line x1="467" y1="674.25" x2="489.5" y2="674.25" stroke-width="1.4"/>
<line x1="467" y1="677.5" x2="489.5" y2="677.5" stroke-width="1.4"/>
<line x1="467" y1="680.6" x2="489.5" y2="680.6" stroke-width="1.4"/>
<circle cx="119.3" cy="747.6" r="1.9" stroke-width="1.3"/>
<text x="126.3" y="749.9" font-size="8" text-anchor="start">Low #NK patients</text>
<rect x="215.1" y="745.8" width="3.6" height="3.6" stroke-width="1.2"/>
<text x="223.5" y="749.9" font-size="8" text-anchor="start">Medium #NK patients</text>
<polygon points="330.3,745.7 332.6,749.9 328,749.9" stroke-width="1.2"/>
<text x="337.5" y="749.9" font-size="8" text-anchor="start">High #NK patients</text>
</g></svg></body></html>
